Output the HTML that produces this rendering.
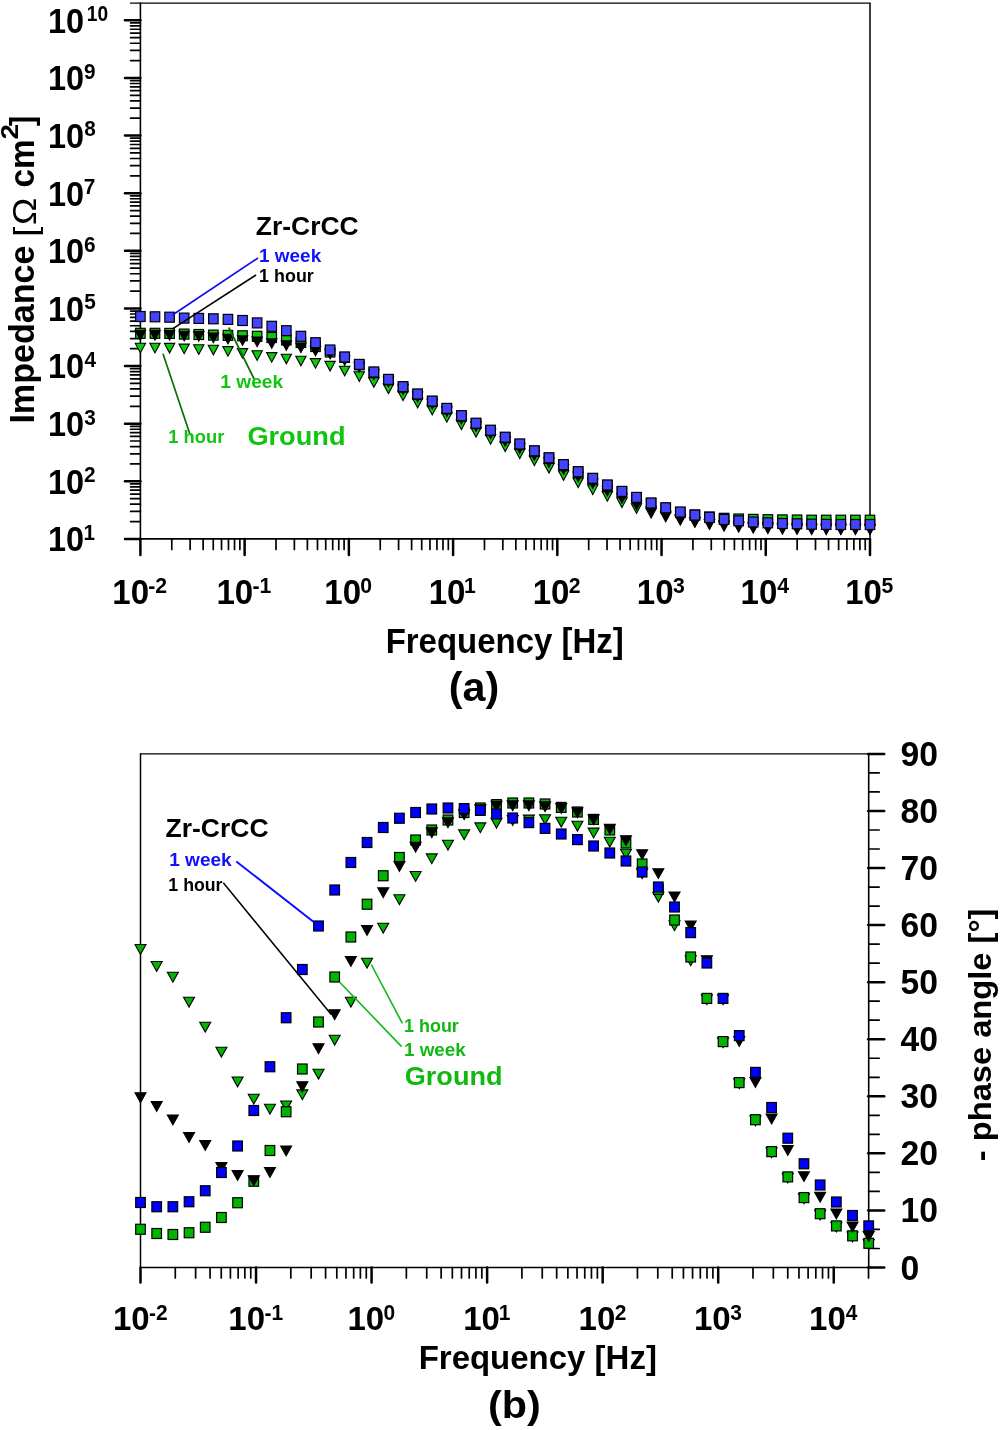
<!DOCTYPE html>
<html lang="en">
<head>
<meta charset="utf-8">
<title>Bode plots: impedance and phase angle</title>
<style>
html,body{margin:0;padding:0;background:#fff;}
body{width:1000px;height:1430px;overflow:hidden;}
svg{display:block;will-change:transform;}
text{font-family:"Liberation Sans",sans-serif;}
</style>
</head>
<body>
<svg width="1000" height="1430" viewBox="0 0 1000 1430" shape-rendering="geometricPrecision">
<rect x="0" y="0" width="1000" height="1430" fill="#ffffff"/>
<line x1="140.40" y1="2.40" x2="140.40" y2="539.70" stroke="#000" stroke-width="1.6" stroke-linecap="butt"/>
<line x1="140.40" y1="538.90" x2="870.70" y2="538.90" stroke="#000" stroke-width="1.6" stroke-linecap="butt"/>
<line x1="130.00" y1="3.10" x2="870.70" y2="3.10" stroke="#000" stroke-width="1.4" stroke-linecap="butt"/>
<line x1="870.00" y1="3.10" x2="870.00" y2="538.90" stroke="#000" stroke-width="1.5" stroke-linecap="butt"/>
<line x1="125.00" y1="538.90" x2="140.40" y2="538.90" stroke="#000" stroke-width="2.5" stroke-linecap="round"/>
<line x1="130.60" y1="521.55" x2="140.40" y2="521.55" stroke="#000" stroke-width="1.7" stroke-linecap="round"/>
<line x1="130.60" y1="511.41" x2="140.40" y2="511.41" stroke="#000" stroke-width="1.7" stroke-linecap="round"/>
<line x1="130.60" y1="504.21" x2="140.40" y2="504.21" stroke="#000" stroke-width="1.7" stroke-linecap="round"/>
<line x1="130.60" y1="498.63" x2="140.40" y2="498.63" stroke="#000" stroke-width="1.7" stroke-linecap="round"/>
<line x1="130.60" y1="494.06" x2="140.40" y2="494.06" stroke="#000" stroke-width="1.7" stroke-linecap="round"/>
<line x1="130.60" y1="490.21" x2="140.40" y2="490.21" stroke="#000" stroke-width="1.7" stroke-linecap="round"/>
<line x1="130.60" y1="486.86" x2="140.40" y2="486.86" stroke="#000" stroke-width="1.7" stroke-linecap="round"/>
<line x1="130.60" y1="483.92" x2="140.40" y2="483.92" stroke="#000" stroke-width="1.7" stroke-linecap="round"/>
<line x1="125.00" y1="481.28" x2="140.40" y2="481.28" stroke="#000" stroke-width="2.5" stroke-linecap="round"/>
<line x1="130.60" y1="463.93" x2="140.40" y2="463.93" stroke="#000" stroke-width="1.7" stroke-linecap="round"/>
<line x1="130.60" y1="453.79" x2="140.40" y2="453.79" stroke="#000" stroke-width="1.7" stroke-linecap="round"/>
<line x1="130.60" y1="446.59" x2="140.40" y2="446.59" stroke="#000" stroke-width="1.7" stroke-linecap="round"/>
<line x1="130.60" y1="441.01" x2="140.40" y2="441.01" stroke="#000" stroke-width="1.7" stroke-linecap="round"/>
<line x1="130.60" y1="436.44" x2="140.40" y2="436.44" stroke="#000" stroke-width="1.7" stroke-linecap="round"/>
<line x1="130.60" y1="432.59" x2="140.40" y2="432.59" stroke="#000" stroke-width="1.7" stroke-linecap="round"/>
<line x1="130.60" y1="429.24" x2="140.40" y2="429.24" stroke="#000" stroke-width="1.7" stroke-linecap="round"/>
<line x1="130.60" y1="426.30" x2="140.40" y2="426.30" stroke="#000" stroke-width="1.7" stroke-linecap="round"/>
<line x1="125.00" y1="423.66" x2="140.40" y2="423.66" stroke="#000" stroke-width="2.5" stroke-linecap="round"/>
<line x1="130.60" y1="406.31" x2="140.40" y2="406.31" stroke="#000" stroke-width="1.7" stroke-linecap="round"/>
<line x1="130.60" y1="396.17" x2="140.40" y2="396.17" stroke="#000" stroke-width="1.7" stroke-linecap="round"/>
<line x1="130.60" y1="388.97" x2="140.40" y2="388.97" stroke="#000" stroke-width="1.7" stroke-linecap="round"/>
<line x1="130.60" y1="383.39" x2="140.40" y2="383.39" stroke="#000" stroke-width="1.7" stroke-linecap="round"/>
<line x1="130.60" y1="378.82" x2="140.40" y2="378.82" stroke="#000" stroke-width="1.7" stroke-linecap="round"/>
<line x1="130.60" y1="374.97" x2="140.40" y2="374.97" stroke="#000" stroke-width="1.7" stroke-linecap="round"/>
<line x1="130.60" y1="371.62" x2="140.40" y2="371.62" stroke="#000" stroke-width="1.7" stroke-linecap="round"/>
<line x1="130.60" y1="368.68" x2="140.40" y2="368.68" stroke="#000" stroke-width="1.7" stroke-linecap="round"/>
<line x1="125.00" y1="366.04" x2="140.40" y2="366.04" stroke="#000" stroke-width="2.5" stroke-linecap="round"/>
<line x1="130.60" y1="348.69" x2="140.40" y2="348.69" stroke="#000" stroke-width="1.7" stroke-linecap="round"/>
<line x1="130.60" y1="338.55" x2="140.40" y2="338.55" stroke="#000" stroke-width="1.7" stroke-linecap="round"/>
<line x1="130.60" y1="331.35" x2="140.40" y2="331.35" stroke="#000" stroke-width="1.7" stroke-linecap="round"/>
<line x1="130.60" y1="325.77" x2="140.40" y2="325.77" stroke="#000" stroke-width="1.7" stroke-linecap="round"/>
<line x1="130.60" y1="321.20" x2="140.40" y2="321.20" stroke="#000" stroke-width="1.7" stroke-linecap="round"/>
<line x1="130.60" y1="317.35" x2="140.40" y2="317.35" stroke="#000" stroke-width="1.7" stroke-linecap="round"/>
<line x1="130.60" y1="314.00" x2="140.40" y2="314.00" stroke="#000" stroke-width="1.7" stroke-linecap="round"/>
<line x1="130.60" y1="311.06" x2="140.40" y2="311.06" stroke="#000" stroke-width="1.7" stroke-linecap="round"/>
<line x1="125.00" y1="308.42" x2="140.40" y2="308.42" stroke="#000" stroke-width="2.5" stroke-linecap="round"/>
<line x1="130.60" y1="291.07" x2="140.40" y2="291.07" stroke="#000" stroke-width="1.7" stroke-linecap="round"/>
<line x1="130.60" y1="280.93" x2="140.40" y2="280.93" stroke="#000" stroke-width="1.7" stroke-linecap="round"/>
<line x1="130.60" y1="273.73" x2="140.40" y2="273.73" stroke="#000" stroke-width="1.7" stroke-linecap="round"/>
<line x1="130.60" y1="268.15" x2="140.40" y2="268.15" stroke="#000" stroke-width="1.7" stroke-linecap="round"/>
<line x1="130.60" y1="263.58" x2="140.40" y2="263.58" stroke="#000" stroke-width="1.7" stroke-linecap="round"/>
<line x1="130.60" y1="259.73" x2="140.40" y2="259.73" stroke="#000" stroke-width="1.7" stroke-linecap="round"/>
<line x1="130.60" y1="256.38" x2="140.40" y2="256.38" stroke="#000" stroke-width="1.7" stroke-linecap="round"/>
<line x1="130.60" y1="253.44" x2="140.40" y2="253.44" stroke="#000" stroke-width="1.7" stroke-linecap="round"/>
<line x1="125.00" y1="250.80" x2="140.40" y2="250.80" stroke="#000" stroke-width="2.5" stroke-linecap="round"/>
<line x1="130.60" y1="233.45" x2="140.40" y2="233.45" stroke="#000" stroke-width="1.7" stroke-linecap="round"/>
<line x1="130.60" y1="223.31" x2="140.40" y2="223.31" stroke="#000" stroke-width="1.7" stroke-linecap="round"/>
<line x1="130.60" y1="216.11" x2="140.40" y2="216.11" stroke="#000" stroke-width="1.7" stroke-linecap="round"/>
<line x1="130.60" y1="210.53" x2="140.40" y2="210.53" stroke="#000" stroke-width="1.7" stroke-linecap="round"/>
<line x1="130.60" y1="205.96" x2="140.40" y2="205.96" stroke="#000" stroke-width="1.7" stroke-linecap="round"/>
<line x1="130.60" y1="202.11" x2="140.40" y2="202.11" stroke="#000" stroke-width="1.7" stroke-linecap="round"/>
<line x1="130.60" y1="198.76" x2="140.40" y2="198.76" stroke="#000" stroke-width="1.7" stroke-linecap="round"/>
<line x1="130.60" y1="195.82" x2="140.40" y2="195.82" stroke="#000" stroke-width="1.7" stroke-linecap="round"/>
<line x1="125.00" y1="193.18" x2="140.40" y2="193.18" stroke="#000" stroke-width="2.5" stroke-linecap="round"/>
<line x1="130.60" y1="175.83" x2="140.40" y2="175.83" stroke="#000" stroke-width="1.7" stroke-linecap="round"/>
<line x1="130.60" y1="165.69" x2="140.40" y2="165.69" stroke="#000" stroke-width="1.7" stroke-linecap="round"/>
<line x1="130.60" y1="158.49" x2="140.40" y2="158.49" stroke="#000" stroke-width="1.7" stroke-linecap="round"/>
<line x1="130.60" y1="152.91" x2="140.40" y2="152.91" stroke="#000" stroke-width="1.7" stroke-linecap="round"/>
<line x1="130.60" y1="148.34" x2="140.40" y2="148.34" stroke="#000" stroke-width="1.7" stroke-linecap="round"/>
<line x1="130.60" y1="144.49" x2="140.40" y2="144.49" stroke="#000" stroke-width="1.7" stroke-linecap="round"/>
<line x1="130.60" y1="141.14" x2="140.40" y2="141.14" stroke="#000" stroke-width="1.7" stroke-linecap="round"/>
<line x1="130.60" y1="138.20" x2="140.40" y2="138.20" stroke="#000" stroke-width="1.7" stroke-linecap="round"/>
<line x1="125.00" y1="135.56" x2="140.40" y2="135.56" stroke="#000" stroke-width="2.5" stroke-linecap="round"/>
<line x1="130.60" y1="118.21" x2="140.40" y2="118.21" stroke="#000" stroke-width="1.7" stroke-linecap="round"/>
<line x1="130.60" y1="108.07" x2="140.40" y2="108.07" stroke="#000" stroke-width="1.7" stroke-linecap="round"/>
<line x1="130.60" y1="100.87" x2="140.40" y2="100.87" stroke="#000" stroke-width="1.7" stroke-linecap="round"/>
<line x1="130.60" y1="95.29" x2="140.40" y2="95.29" stroke="#000" stroke-width="1.7" stroke-linecap="round"/>
<line x1="130.60" y1="90.72" x2="140.40" y2="90.72" stroke="#000" stroke-width="1.7" stroke-linecap="round"/>
<line x1="130.60" y1="86.87" x2="140.40" y2="86.87" stroke="#000" stroke-width="1.7" stroke-linecap="round"/>
<line x1="130.60" y1="83.52" x2="140.40" y2="83.52" stroke="#000" stroke-width="1.7" stroke-linecap="round"/>
<line x1="130.60" y1="80.58" x2="140.40" y2="80.58" stroke="#000" stroke-width="1.7" stroke-linecap="round"/>
<line x1="125.00" y1="77.94" x2="140.40" y2="77.94" stroke="#000" stroke-width="2.5" stroke-linecap="round"/>
<line x1="130.60" y1="60.59" x2="140.40" y2="60.59" stroke="#000" stroke-width="1.7" stroke-linecap="round"/>
<line x1="130.60" y1="50.45" x2="140.40" y2="50.45" stroke="#000" stroke-width="1.7" stroke-linecap="round"/>
<line x1="130.60" y1="43.25" x2="140.40" y2="43.25" stroke="#000" stroke-width="1.7" stroke-linecap="round"/>
<line x1="130.60" y1="37.67" x2="140.40" y2="37.67" stroke="#000" stroke-width="1.7" stroke-linecap="round"/>
<line x1="130.60" y1="33.10" x2="140.40" y2="33.10" stroke="#000" stroke-width="1.7" stroke-linecap="round"/>
<line x1="130.60" y1="29.25" x2="140.40" y2="29.25" stroke="#000" stroke-width="1.7" stroke-linecap="round"/>
<line x1="130.60" y1="25.90" x2="140.40" y2="25.90" stroke="#000" stroke-width="1.7" stroke-linecap="round"/>
<line x1="130.60" y1="22.96" x2="140.40" y2="22.96" stroke="#000" stroke-width="1.7" stroke-linecap="round"/>
<line x1="125.00" y1="20.32" x2="140.40" y2="20.32" stroke="#000" stroke-width="2.5" stroke-linecap="round"/>
<line x1="140.40" y1="538.90" x2="140.40" y2="554.90" stroke="#000" stroke-width="2.5" stroke-linecap="round"/>
<line x1="171.78" y1="538.90" x2="171.78" y2="549.40" stroke="#000" stroke-width="1.7" stroke-linecap="round"/>
<line x1="190.13" y1="538.90" x2="190.13" y2="549.40" stroke="#000" stroke-width="1.7" stroke-linecap="round"/>
<line x1="203.15" y1="538.90" x2="203.15" y2="549.40" stroke="#000" stroke-width="1.7" stroke-linecap="round"/>
<line x1="213.25" y1="538.90" x2="213.25" y2="549.40" stroke="#000" stroke-width="1.7" stroke-linecap="round"/>
<line x1="221.51" y1="538.90" x2="221.51" y2="549.40" stroke="#000" stroke-width="1.7" stroke-linecap="round"/>
<line x1="228.48" y1="538.90" x2="228.48" y2="549.40" stroke="#000" stroke-width="1.7" stroke-linecap="round"/>
<line x1="234.53" y1="538.90" x2="234.53" y2="549.40" stroke="#000" stroke-width="1.7" stroke-linecap="round"/>
<line x1="239.86" y1="538.90" x2="239.86" y2="549.40" stroke="#000" stroke-width="1.7" stroke-linecap="round"/>
<line x1="244.63" y1="538.90" x2="244.63" y2="554.90" stroke="#000" stroke-width="2.5" stroke-linecap="round"/>
<line x1="276.00" y1="538.90" x2="276.00" y2="549.40" stroke="#000" stroke-width="1.7" stroke-linecap="round"/>
<line x1="294.36" y1="538.90" x2="294.36" y2="549.40" stroke="#000" stroke-width="1.7" stroke-linecap="round"/>
<line x1="307.38" y1="538.90" x2="307.38" y2="549.40" stroke="#000" stroke-width="1.7" stroke-linecap="round"/>
<line x1="317.48" y1="538.90" x2="317.48" y2="549.40" stroke="#000" stroke-width="1.7" stroke-linecap="round"/>
<line x1="325.73" y1="538.90" x2="325.73" y2="549.40" stroke="#000" stroke-width="1.7" stroke-linecap="round"/>
<line x1="332.71" y1="538.90" x2="332.71" y2="549.40" stroke="#000" stroke-width="1.7" stroke-linecap="round"/>
<line x1="338.76" y1="538.90" x2="338.76" y2="549.40" stroke="#000" stroke-width="1.7" stroke-linecap="round"/>
<line x1="344.09" y1="538.90" x2="344.09" y2="549.40" stroke="#000" stroke-width="1.7" stroke-linecap="round"/>
<line x1="348.86" y1="538.90" x2="348.86" y2="554.90" stroke="#000" stroke-width="2.5" stroke-linecap="round"/>
<line x1="380.23" y1="538.90" x2="380.23" y2="549.40" stroke="#000" stroke-width="1.7" stroke-linecap="round"/>
<line x1="398.59" y1="538.90" x2="398.59" y2="549.40" stroke="#000" stroke-width="1.7" stroke-linecap="round"/>
<line x1="411.61" y1="538.90" x2="411.61" y2="549.40" stroke="#000" stroke-width="1.7" stroke-linecap="round"/>
<line x1="421.71" y1="538.90" x2="421.71" y2="549.40" stroke="#000" stroke-width="1.7" stroke-linecap="round"/>
<line x1="429.96" y1="538.90" x2="429.96" y2="549.40" stroke="#000" stroke-width="1.7" stroke-linecap="round"/>
<line x1="436.94" y1="538.90" x2="436.94" y2="549.40" stroke="#000" stroke-width="1.7" stroke-linecap="round"/>
<line x1="442.98" y1="538.90" x2="442.98" y2="549.40" stroke="#000" stroke-width="1.7" stroke-linecap="round"/>
<line x1="448.32" y1="538.90" x2="448.32" y2="549.40" stroke="#000" stroke-width="1.7" stroke-linecap="round"/>
<line x1="453.09" y1="538.90" x2="453.09" y2="554.90" stroke="#000" stroke-width="2.5" stroke-linecap="round"/>
<line x1="484.46" y1="538.90" x2="484.46" y2="549.40" stroke="#000" stroke-width="1.7" stroke-linecap="round"/>
<line x1="502.82" y1="538.90" x2="502.82" y2="549.40" stroke="#000" stroke-width="1.7" stroke-linecap="round"/>
<line x1="515.84" y1="538.90" x2="515.84" y2="549.40" stroke="#000" stroke-width="1.7" stroke-linecap="round"/>
<line x1="525.94" y1="538.90" x2="525.94" y2="549.40" stroke="#000" stroke-width="1.7" stroke-linecap="round"/>
<line x1="534.19" y1="538.90" x2="534.19" y2="549.40" stroke="#000" stroke-width="1.7" stroke-linecap="round"/>
<line x1="541.17" y1="538.90" x2="541.17" y2="549.40" stroke="#000" stroke-width="1.7" stroke-linecap="round"/>
<line x1="547.21" y1="538.90" x2="547.21" y2="549.40" stroke="#000" stroke-width="1.7" stroke-linecap="round"/>
<line x1="552.55" y1="538.90" x2="552.55" y2="549.40" stroke="#000" stroke-width="1.7" stroke-linecap="round"/>
<line x1="557.31" y1="538.90" x2="557.31" y2="554.90" stroke="#000" stroke-width="2.5" stroke-linecap="round"/>
<line x1="588.69" y1="538.90" x2="588.69" y2="549.40" stroke="#000" stroke-width="1.7" stroke-linecap="round"/>
<line x1="607.04" y1="538.90" x2="607.04" y2="549.40" stroke="#000" stroke-width="1.7" stroke-linecap="round"/>
<line x1="620.07" y1="538.90" x2="620.07" y2="549.40" stroke="#000" stroke-width="1.7" stroke-linecap="round"/>
<line x1="630.17" y1="538.90" x2="630.17" y2="549.40" stroke="#000" stroke-width="1.7" stroke-linecap="round"/>
<line x1="638.42" y1="538.90" x2="638.42" y2="549.40" stroke="#000" stroke-width="1.7" stroke-linecap="round"/>
<line x1="645.40" y1="538.90" x2="645.40" y2="549.40" stroke="#000" stroke-width="1.7" stroke-linecap="round"/>
<line x1="651.44" y1="538.90" x2="651.44" y2="549.40" stroke="#000" stroke-width="1.7" stroke-linecap="round"/>
<line x1="656.77" y1="538.90" x2="656.77" y2="549.40" stroke="#000" stroke-width="1.7" stroke-linecap="round"/>
<line x1="661.54" y1="538.90" x2="661.54" y2="554.90" stroke="#000" stroke-width="2.5" stroke-linecap="round"/>
<line x1="692.92" y1="538.90" x2="692.92" y2="549.40" stroke="#000" stroke-width="1.7" stroke-linecap="round"/>
<line x1="711.27" y1="538.90" x2="711.27" y2="549.40" stroke="#000" stroke-width="1.7" stroke-linecap="round"/>
<line x1="724.29" y1="538.90" x2="724.29" y2="549.40" stroke="#000" stroke-width="1.7" stroke-linecap="round"/>
<line x1="734.40" y1="538.90" x2="734.40" y2="549.40" stroke="#000" stroke-width="1.7" stroke-linecap="round"/>
<line x1="742.65" y1="538.90" x2="742.65" y2="549.40" stroke="#000" stroke-width="1.7" stroke-linecap="round"/>
<line x1="749.63" y1="538.90" x2="749.63" y2="549.40" stroke="#000" stroke-width="1.7" stroke-linecap="round"/>
<line x1="755.67" y1="538.90" x2="755.67" y2="549.40" stroke="#000" stroke-width="1.7" stroke-linecap="round"/>
<line x1="761.00" y1="538.90" x2="761.00" y2="549.40" stroke="#000" stroke-width="1.7" stroke-linecap="round"/>
<line x1="765.77" y1="538.90" x2="765.77" y2="554.90" stroke="#000" stroke-width="2.5" stroke-linecap="round"/>
<line x1="797.15" y1="538.90" x2="797.15" y2="549.40" stroke="#000" stroke-width="1.7" stroke-linecap="round"/>
<line x1="815.50" y1="538.90" x2="815.50" y2="549.40" stroke="#000" stroke-width="1.7" stroke-linecap="round"/>
<line x1="828.52" y1="538.90" x2="828.52" y2="549.40" stroke="#000" stroke-width="1.7" stroke-linecap="round"/>
<line x1="838.62" y1="538.90" x2="838.62" y2="549.40" stroke="#000" stroke-width="1.7" stroke-linecap="round"/>
<line x1="846.88" y1="538.90" x2="846.88" y2="549.40" stroke="#000" stroke-width="1.7" stroke-linecap="round"/>
<line x1="853.85" y1="538.90" x2="853.85" y2="549.40" stroke="#000" stroke-width="1.7" stroke-linecap="round"/>
<line x1="859.90" y1="538.90" x2="859.90" y2="549.40" stroke="#000" stroke-width="1.7" stroke-linecap="round"/>
<line x1="865.23" y1="538.90" x2="865.23" y2="549.40" stroke="#000" stroke-width="1.7" stroke-linecap="round"/>
<line x1="870.00" y1="538.90" x2="870.00" y2="554.90" stroke="#000" stroke-width="2.5" stroke-linecap="round"/>
<text transform="translate(48.09,551.30) scale(0.9230,1)" font-family="Liberation Sans, sans-serif" font-weight="bold" font-size="35.14" fill="#000" xml:space="preserve">10</text>
<text transform="translate(83.45,539.80) scale(0.9200,1)" font-family="Liberation Sans, sans-serif" font-weight="bold" font-size="22.57" fill="#000" xml:space="preserve">1</text>
<text transform="translate(48.09,493.68) scale(0.9230,1)" font-family="Liberation Sans, sans-serif" font-weight="bold" font-size="35.14" fill="#000" xml:space="preserve">10</text>
<text transform="translate(84.07,482.18) scale(0.9200,1)" font-family="Liberation Sans, sans-serif" font-weight="bold" font-size="22.57" fill="#000" xml:space="preserve">2</text>
<text transform="translate(48.09,436.06) scale(0.9230,1)" font-family="Liberation Sans, sans-serif" font-weight="bold" font-size="35.14" fill="#000" xml:space="preserve">10</text>
<text transform="translate(84.28,424.56) scale(0.9200,1)" font-family="Liberation Sans, sans-serif" font-weight="bold" font-size="22.57" fill="#000" xml:space="preserve">3</text>
<text transform="translate(48.09,378.44) scale(0.9230,1)" font-family="Liberation Sans, sans-serif" font-weight="bold" font-size="35.14" fill="#000" xml:space="preserve">10</text>
<text transform="translate(84.49,366.94) scale(0.9200,1)" font-family="Liberation Sans, sans-serif" font-weight="bold" font-size="22.57" fill="#000" xml:space="preserve">4</text>
<text transform="translate(48.09,320.82) scale(0.9230,1)" font-family="Liberation Sans, sans-serif" font-weight="bold" font-size="35.14" fill="#000" xml:space="preserve">10</text>
<text transform="translate(84.18,309.32) scale(0.9200,1)" font-family="Liberation Sans, sans-serif" font-weight="bold" font-size="22.57" fill="#000" xml:space="preserve">5</text>
<text transform="translate(48.09,263.20) scale(0.9230,1)" font-family="Liberation Sans, sans-serif" font-weight="bold" font-size="35.14" fill="#000" xml:space="preserve">10</text>
<text transform="translate(84.07,251.70) scale(0.9200,1)" font-family="Liberation Sans, sans-serif" font-weight="bold" font-size="22.57" fill="#000" xml:space="preserve">6</text>
<text transform="translate(48.09,205.58) scale(0.9230,1)" font-family="Liberation Sans, sans-serif" font-weight="bold" font-size="35.14" fill="#000" xml:space="preserve">10</text>
<text transform="translate(83.87,194.08) scale(0.9200,1)" font-family="Liberation Sans, sans-serif" font-weight="bold" font-size="22.57" fill="#000" xml:space="preserve">7</text>
<text transform="translate(48.09,147.96) scale(0.9230,1)" font-family="Liberation Sans, sans-serif" font-weight="bold" font-size="35.14" fill="#000" xml:space="preserve">10</text>
<text transform="translate(84.18,136.46) scale(0.9200,1)" font-family="Liberation Sans, sans-serif" font-weight="bold" font-size="22.57" fill="#000" xml:space="preserve">8</text>
<text transform="translate(48.09,90.34) scale(0.9230,1)" font-family="Liberation Sans, sans-serif" font-weight="bold" font-size="35.14" fill="#000" xml:space="preserve">10</text>
<text transform="translate(84.07,78.84) scale(0.9200,1)" font-family="Liberation Sans, sans-serif" font-weight="bold" font-size="22.57" fill="#000" xml:space="preserve">9</text>
<text transform="translate(48.09,32.72) scale(0.9230,1)" font-family="Liberation Sans, sans-serif" font-weight="bold" font-size="35.14" fill="#000" xml:space="preserve">10</text>
<text transform="translate(86.75,21.22) scale(0.8508,1)" font-family="Liberation Sans, sans-serif" font-weight="bold" font-size="22.57" fill="#000" xml:space="preserve">10</text>
<text transform="translate(112.31,604.10) scale(0.9439,1)" font-family="Liberation Sans, sans-serif" font-weight="bold" font-size="35.00" fill="#000" xml:space="preserve">10</text>
<text transform="translate(148.31,592.80) scale(0.9400,1)" font-family="Liberation Sans, sans-serif" font-weight="bold" font-size="22.57" fill="#000" xml:space="preserve">-2</text>
<text transform="translate(216.43,604.10) scale(0.9439,1)" font-family="Liberation Sans, sans-serif" font-weight="bold" font-size="35.00" fill="#000" xml:space="preserve">10</text>
<text transform="translate(252.43,592.80) scale(0.9400,1)" font-family="Liberation Sans, sans-serif" font-weight="bold" font-size="22.57" fill="#000" xml:space="preserve">-1</text>
<text transform="translate(324.32,604.10) scale(0.9439,1)" font-family="Liberation Sans, sans-serif" font-weight="bold" font-size="35.00" fill="#000" xml:space="preserve">10</text>
<text transform="translate(360.32,592.80) scale(0.9400,1)" font-family="Liberation Sans, sans-serif" font-weight="bold" font-size="22.57" fill="#000" xml:space="preserve">0</text>
<text transform="translate(428.66,604.10) scale(0.9439,1)" font-family="Liberation Sans, sans-serif" font-weight="bold" font-size="35.00" fill="#000" xml:space="preserve">10</text>
<text transform="translate(464.12,592.80) scale(0.9400,1)" font-family="Liberation Sans, sans-serif" font-weight="bold" font-size="22.57" fill="#000" xml:space="preserve">1</text>
<text transform="translate(532.72,604.10) scale(0.9439,1)" font-family="Liberation Sans, sans-serif" font-weight="bold" font-size="35.00" fill="#000" xml:space="preserve">10</text>
<text transform="translate(568.83,592.80) scale(0.9400,1)" font-family="Liberation Sans, sans-serif" font-weight="bold" font-size="22.57" fill="#000" xml:space="preserve">2</text>
<text transform="translate(636.79,604.10) scale(0.9439,1)" font-family="Liberation Sans, sans-serif" font-weight="bold" font-size="35.00" fill="#000" xml:space="preserve">10</text>
<text transform="translate(673.11,592.80) scale(0.9400,1)" font-family="Liberation Sans, sans-serif" font-weight="bold" font-size="22.57" fill="#000" xml:space="preserve">3</text>
<text transform="translate(740.60,604.10) scale(0.9439,1)" font-family="Liberation Sans, sans-serif" font-weight="bold" font-size="35.00" fill="#000" xml:space="preserve">10</text>
<text transform="translate(777.13,592.80) scale(0.9400,1)" font-family="Liberation Sans, sans-serif" font-weight="bold" font-size="22.57" fill="#000" xml:space="preserve">4</text>
<text transform="translate(845.20,604.10) scale(0.9439,1)" font-family="Liberation Sans, sans-serif" font-weight="bold" font-size="35.00" fill="#000" xml:space="preserve">10</text>
<text transform="translate(881.41,592.80) scale(0.9400,1)" font-family="Liberation Sans, sans-serif" font-weight="bold" font-size="22.57" fill="#000" xml:space="preserve">5</text>
<text transform="translate(385.66,653.30) scale(0.9595,1)" font-family="Liberation Sans, sans-serif" font-weight="bold" font-size="34.35" fill="#000" xml:space="preserve">Frequency [Hz]</text>
<text transform="translate(448.63,700.60) scale(0.9964,1)" font-family="Liberation Sans, sans-serif" font-weight="bold" font-size="41.49" fill="#000" xml:space="preserve">(a)</text>
<g transform="translate(34.3,0) rotate(-90)">
<text transform="translate(-423.62,0.00) scale(0.9528,1)" font-family="Liberation Sans, sans-serif" font-weight="bold" font-size="35.80" fill="#000" xml:space="preserve">Impedance</text>
<text transform="translate(-236.86,1.90) scale(1.1442,1)" font-family="Liberation Sans, sans-serif" font-weight="normal" font-size="31.90" fill="#000" xml:space="preserve">[</text>
<text transform="translate(-224.94,2.00) scale(1.0896,1)" font-family="Liberation Serif, serif" font-weight="normal" font-size="33.70" fill="#000" xml:space="preserve">Ω</text>
<text transform="translate(-187.53,0.00) scale(0.9305,1)" font-family="Liberation Sans, sans-serif" font-weight="bold" font-size="35.80" fill="#000" xml:space="preserve">cm</text>
<text transform="translate(-139.58,-16.60) scale(1.2063,1)" font-family="Liberation Sans, sans-serif" font-weight="bold" font-size="23.14" fill="#000" xml:space="preserve">2</text>
<text transform="translate(-126.21,-1.00) scale(0.9406,1)" font-family="Liberation Sans, sans-serif" font-weight="bold" font-size="33.30" fill="#000" xml:space="preserve">]</text>
</g>
<path d="M135.24 343.30L145.56 343.30L140.40 352.90Z" fill="#0ccc0c" stroke="#000" stroke-width="1.1" stroke-linejoin="miter"/>
<path d="M149.83 343.30L160.15 343.30L154.99 352.90Z" fill="#0ccc0c" stroke="#000" stroke-width="1.1" stroke-linejoin="miter"/>
<path d="M164.42 343.40L174.74 343.40L169.58 353.00Z" fill="#0ccc0c" stroke="#000" stroke-width="1.1" stroke-linejoin="miter"/>
<path d="M179.02 344.10L189.34 344.10L184.18 353.70Z" fill="#0ccc0c" stroke="#000" stroke-width="1.1" stroke-linejoin="miter"/>
<path d="M193.61 344.80L203.93 344.80L198.77 354.40Z" fill="#0ccc0c" stroke="#000" stroke-width="1.1" stroke-linejoin="miter"/>
<path d="M208.20 345.20L218.52 345.20L213.36 354.80Z" fill="#0ccc0c" stroke="#000" stroke-width="1.1" stroke-linejoin="miter"/>
<path d="M222.79 346.60L233.11 346.60L227.95 356.20Z" fill="#0ccc0c" stroke="#000" stroke-width="1.1" stroke-linejoin="miter"/>
<path d="M237.38 348.60L247.70 348.60L242.54 358.20Z" fill="#0ccc0c" stroke="#000" stroke-width="1.1" stroke-linejoin="miter"/>
<path d="M251.98 350.80L262.30 350.80L257.14 360.40Z" fill="#0ccc0c" stroke="#000" stroke-width="1.1" stroke-linejoin="miter"/>
<path d="M266.57 352.60L276.89 352.60L271.73 362.20Z" fill="#0ccc0c" stroke="#000" stroke-width="1.1" stroke-linejoin="miter"/>
<path d="M281.16 354.20L291.48 354.20L286.32 363.80Z" fill="#0ccc0c" stroke="#000" stroke-width="1.1" stroke-linejoin="miter"/>
<path d="M295.75 356.20L306.07 356.20L300.91 365.80Z" fill="#0ccc0c" stroke="#000" stroke-width="1.1" stroke-linejoin="miter"/>
<path d="M310.34 358.60L320.66 358.60L315.50 368.20Z" fill="#0ccc0c" stroke="#000" stroke-width="1.1" stroke-linejoin="miter"/>
<path d="M324.94 361.40L335.26 361.40L330.10 371.00Z" fill="#0ccc0c" stroke="#000" stroke-width="1.1" stroke-linejoin="miter"/>
<path d="M339.53 366.20L349.85 366.20L344.69 375.80Z" fill="#0ccc0c" stroke="#000" stroke-width="1.1" stroke-linejoin="miter"/>
<path d="M354.12 371.80L364.44 371.80L359.28 381.40Z" fill="#0ccc0c" stroke="#000" stroke-width="1.1" stroke-linejoin="miter"/>
<path d="M368.71 377.70L379.03 377.70L373.87 387.30Z" fill="#0ccc0c" stroke="#000" stroke-width="1.1" stroke-linejoin="miter"/>
<path d="M383.30 384.00L393.62 384.00L388.46 393.60Z" fill="#0ccc0c" stroke="#000" stroke-width="1.1" stroke-linejoin="miter"/>
<path d="M397.90 391.10L408.22 391.10L403.06 400.70Z" fill="#0ccc0c" stroke="#000" stroke-width="1.1" stroke-linejoin="miter"/>
<path d="M412.49 398.20L422.81 398.20L417.65 407.80Z" fill="#0ccc0c" stroke="#000" stroke-width="1.1" stroke-linejoin="miter"/>
<path d="M427.08 405.30L437.40 405.30L432.24 414.90Z" fill="#0ccc0c" stroke="#000" stroke-width="1.1" stroke-linejoin="miter"/>
<path d="M441.67 412.60L451.99 412.60L446.83 422.20Z" fill="#0ccc0c" stroke="#000" stroke-width="1.1" stroke-linejoin="miter"/>
<path d="M456.26 419.90L466.58 419.90L461.42 429.50Z" fill="#0ccc0c" stroke="#000" stroke-width="1.1" stroke-linejoin="miter"/>
<path d="M470.86 427.50L481.18 427.50L476.02 437.10Z" fill="#0ccc0c" stroke="#000" stroke-width="1.1" stroke-linejoin="miter"/>
<path d="M485.45 434.60L495.77 434.60L490.61 444.20Z" fill="#0ccc0c" stroke="#000" stroke-width="1.1" stroke-linejoin="miter"/>
<path d="M500.04 441.90L510.36 441.90L505.20 451.50Z" fill="#0ccc0c" stroke="#000" stroke-width="1.1" stroke-linejoin="miter"/>
<path d="M514.63 448.90L524.95 448.90L519.79 458.50Z" fill="#0ccc0c" stroke="#000" stroke-width="1.1" stroke-linejoin="miter"/>
<path d="M529.22 456.00L539.54 456.00L534.38 465.60Z" fill="#0ccc0c" stroke="#000" stroke-width="1.1" stroke-linejoin="miter"/>
<path d="M543.82 463.50L554.14 463.50L548.98 473.10Z" fill="#0ccc0c" stroke="#000" stroke-width="1.1" stroke-linejoin="miter"/>
<path d="M558.41 470.70L568.73 470.70L563.57 480.30Z" fill="#0ccc0c" stroke="#000" stroke-width="1.1" stroke-linejoin="miter"/>
<path d="M573.00 478.00L583.32 478.00L578.16 487.60Z" fill="#0ccc0c" stroke="#000" stroke-width="1.1" stroke-linejoin="miter"/>
<path d="M587.59 484.90L597.91 484.90L592.75 494.50Z" fill="#0ccc0c" stroke="#000" stroke-width="1.1" stroke-linejoin="miter"/>
<path d="M602.18 491.60L612.50 491.60L607.34 501.20Z" fill="#0ccc0c" stroke="#000" stroke-width="1.1" stroke-linejoin="miter"/>
<path d="M616.78 497.90L627.10 497.90L621.94 507.50Z" fill="#0ccc0c" stroke="#000" stroke-width="1.1" stroke-linejoin="miter"/>
<path d="M631.37 503.70L641.69 503.70L636.53 513.30Z" fill="#0ccc0c" stroke="#000" stroke-width="1.1" stroke-linejoin="miter"/>
<path d="M645.96 508.60L656.28 508.60L651.12 518.20Z" fill="#0ccc0c" stroke="#000" stroke-width="1.1" stroke-linejoin="miter"/>
<path d="M660.55 511.30L670.87 511.30L665.71 520.90Z" fill="#0ccc0c" stroke="#000" stroke-width="1.1" stroke-linejoin="miter"/>
<path d="M675.14 514.90L685.46 514.90L680.30 524.50Z" fill="#0ccc0c" stroke="#000" stroke-width="1.1" stroke-linejoin="miter"/>
<path d="M689.74 517.50L700.06 517.50L694.90 527.10Z" fill="#0ccc0c" stroke="#000" stroke-width="1.1" stroke-linejoin="miter"/>
<path d="M704.33 519.30L714.65 519.30L709.49 528.90Z" fill="#0ccc0c" stroke="#000" stroke-width="1.1" stroke-linejoin="miter"/>
<path d="M718.92 520.80L729.24 520.80L724.08 530.40Z" fill="#0ccc0c" stroke="#000" stroke-width="1.1" stroke-linejoin="miter"/>
<path d="M733.51 521.70L743.83 521.70L738.67 531.30Z" fill="#0ccc0c" stroke="#000" stroke-width="1.1" stroke-linejoin="miter"/>
<path d="M748.10 522.40L758.42 522.40L753.26 532.00Z" fill="#0ccc0c" stroke="#000" stroke-width="1.1" stroke-linejoin="miter"/>
<path d="M762.70 522.70L773.02 522.70L767.86 532.30Z" fill="#0ccc0c" stroke="#000" stroke-width="1.1" stroke-linejoin="miter"/>
<path d="M777.29 523.40L787.61 523.40L782.45 533.00Z" fill="#0ccc0c" stroke="#000" stroke-width="1.1" stroke-linejoin="miter"/>
<path d="M791.88 523.70L802.20 523.70L797.04 533.30Z" fill="#0ccc0c" stroke="#000" stroke-width="1.1" stroke-linejoin="miter"/>
<path d="M806.47 524.10L816.79 524.10L811.63 533.70Z" fill="#0ccc0c" stroke="#000" stroke-width="1.1" stroke-linejoin="miter"/>
<path d="M821.06 524.30L831.38 524.30L826.22 533.90Z" fill="#0ccc0c" stroke="#000" stroke-width="1.1" stroke-linejoin="miter"/>
<path d="M835.66 524.40L845.98 524.40L840.82 534.00Z" fill="#0ccc0c" stroke="#000" stroke-width="1.1" stroke-linejoin="miter"/>
<path d="M850.25 524.40L860.57 524.40L855.41 534.00Z" fill="#0ccc0c" stroke="#000" stroke-width="1.1" stroke-linejoin="miter"/>
<path d="M864.84 524.40L875.16 524.40L870.00 534.00Z" fill="#0ccc0c" stroke="#000" stroke-width="1.1" stroke-linejoin="miter"/>
<rect x="135.65" y="328.30" width="9.50" height="10.00" fill="#0ccc0c" stroke="#000" stroke-width="1.2"/>
<rect x="150.24" y="328.30" width="9.50" height="10.00" fill="#0ccc0c" stroke="#000" stroke-width="1.2"/>
<rect x="164.83" y="328.40" width="9.50" height="10.00" fill="#0ccc0c" stroke="#000" stroke-width="1.2"/>
<rect x="179.43" y="329.10" width="9.50" height="10.00" fill="#0ccc0c" stroke="#000" stroke-width="1.2"/>
<rect x="194.02" y="329.50" width="9.50" height="10.00" fill="#0ccc0c" stroke="#000" stroke-width="1.2"/>
<rect x="208.61" y="330.10" width="9.50" height="10.00" fill="#0ccc0c" stroke="#000" stroke-width="1.2"/>
<rect x="223.20" y="330.40" width="9.50" height="10.00" fill="#0ccc0c" stroke="#000" stroke-width="1.2"/>
<rect x="237.79" y="330.80" width="9.50" height="10.00" fill="#0ccc0c" stroke="#000" stroke-width="1.2"/>
<rect x="252.39" y="331.30" width="9.50" height="10.00" fill="#0ccc0c" stroke="#000" stroke-width="1.2"/>
<rect x="266.98" y="332.50" width="9.50" height="10.00" fill="#0ccc0c" stroke="#000" stroke-width="1.2"/>
<rect x="281.57" y="335.00" width="9.50" height="10.00" fill="#0ccc0c" stroke="#000" stroke-width="1.2"/>
<rect x="296.16" y="337.50" width="9.50" height="10.00" fill="#0ccc0c" stroke="#000" stroke-width="1.2"/>
<rect x="310.75" y="341.50" width="9.50" height="10.00" fill="#0ccc0c" stroke="#000" stroke-width="1.2"/>
<rect x="325.35" y="347.00" width="9.50" height="10.00" fill="#0ccc0c" stroke="#000" stroke-width="1.2"/>
<rect x="339.94" y="352.40" width="9.50" height="10.00" fill="#0ccc0c" stroke="#000" stroke-width="1.2"/>
<rect x="354.53" y="359.80" width="9.50" height="10.00" fill="#0ccc0c" stroke="#000" stroke-width="1.2"/>
<rect x="369.12" y="367.40" width="9.50" height="10.00" fill="#0ccc0c" stroke="#000" stroke-width="1.2"/>
<rect x="383.71" y="374.80" width="9.50" height="10.00" fill="#0ccc0c" stroke="#000" stroke-width="1.2"/>
<rect x="398.31" y="382.10" width="9.50" height="10.00" fill="#0ccc0c" stroke="#000" stroke-width="1.2"/>
<rect x="412.90" y="389.40" width="9.50" height="10.00" fill="#0ccc0c" stroke="#000" stroke-width="1.2"/>
<rect x="427.49" y="396.50" width="9.50" height="10.00" fill="#0ccc0c" stroke="#000" stroke-width="1.2"/>
<rect x="442.08" y="403.80" width="9.50" height="10.00" fill="#0ccc0c" stroke="#000" stroke-width="1.2"/>
<rect x="456.67" y="411.10" width="9.50" height="10.00" fill="#0ccc0c" stroke="#000" stroke-width="1.2"/>
<rect x="471.27" y="418.60" width="9.50" height="10.00" fill="#0ccc0c" stroke="#000" stroke-width="1.2"/>
<rect x="485.86" y="425.60" width="9.50" height="10.00" fill="#0ccc0c" stroke="#000" stroke-width="1.2"/>
<rect x="500.45" y="432.60" width="9.50" height="10.00" fill="#0ccc0c" stroke="#000" stroke-width="1.2"/>
<rect x="515.04" y="439.40" width="9.50" height="10.00" fill="#0ccc0c" stroke="#000" stroke-width="1.2"/>
<rect x="529.63" y="446.20" width="9.50" height="10.00" fill="#0ccc0c" stroke="#000" stroke-width="1.2"/>
<rect x="544.23" y="453.20" width="9.50" height="10.00" fill="#0ccc0c" stroke="#000" stroke-width="1.2"/>
<rect x="558.82" y="460.00" width="9.50" height="10.00" fill="#0ccc0c" stroke="#000" stroke-width="1.2"/>
<rect x="573.41" y="467.10" width="9.50" height="10.00" fill="#0ccc0c" stroke="#000" stroke-width="1.2"/>
<rect x="588.00" y="473.70" width="9.50" height="10.00" fill="#0ccc0c" stroke="#000" stroke-width="1.2"/>
<rect x="602.59" y="480.40" width="9.50" height="10.00" fill="#0ccc0c" stroke="#000" stroke-width="1.2"/>
<rect x="617.19" y="486.80" width="9.50" height="10.00" fill="#0ccc0c" stroke="#000" stroke-width="1.2"/>
<rect x="631.78" y="492.80" width="9.50" height="10.00" fill="#0ccc0c" stroke="#000" stroke-width="1.2"/>
<rect x="646.37" y="498.40" width="9.50" height="10.00" fill="#0ccc0c" stroke="#000" stroke-width="1.2"/>
<rect x="660.96" y="503.20" width="9.50" height="10.00" fill="#0ccc0c" stroke="#000" stroke-width="1.2"/>
<rect x="675.55" y="507.50" width="9.50" height="10.00" fill="#0ccc0c" stroke="#000" stroke-width="1.2"/>
<rect x="690.15" y="510.00" width="9.50" height="10.00" fill="#0ccc0c" stroke="#000" stroke-width="1.2"/>
<rect x="704.74" y="512.00" width="9.50" height="10.00" fill="#0ccc0c" stroke="#000" stroke-width="1.2"/>
<rect x="719.33" y="513.30" width="9.50" height="10.00" fill="#0ccc0c" stroke="#000" stroke-width="1.2"/>
<rect x="733.92" y="514.00" width="9.50" height="10.00" fill="#0ccc0c" stroke="#000" stroke-width="1.2"/>
<rect x="748.51" y="514.40" width="9.50" height="10.00" fill="#0ccc0c" stroke="#000" stroke-width="1.2"/>
<rect x="763.11" y="514.70" width="9.50" height="10.00" fill="#0ccc0c" stroke="#000" stroke-width="1.2"/>
<rect x="777.70" y="514.90" width="9.50" height="10.00" fill="#0ccc0c" stroke="#000" stroke-width="1.2"/>
<rect x="792.29" y="515.00" width="9.50" height="10.00" fill="#0ccc0c" stroke="#000" stroke-width="1.2"/>
<rect x="806.88" y="515.20" width="9.50" height="10.00" fill="#0ccc0c" stroke="#000" stroke-width="1.2"/>
<rect x="821.47" y="515.20" width="9.50" height="10.00" fill="#0ccc0c" stroke="#000" stroke-width="1.2"/>
<rect x="836.07" y="515.20" width="9.50" height="10.00" fill="#0ccc0c" stroke="#000" stroke-width="1.2"/>
<rect x="850.66" y="515.20" width="9.50" height="10.00" fill="#0ccc0c" stroke="#000" stroke-width="1.2"/>
<rect x="865.25" y="515.20" width="9.50" height="10.00" fill="#0ccc0c" stroke="#000" stroke-width="1.2"/>
<path d="M135.24 330.40L145.56 330.40L140.40 340.00Z" fill="#000" stroke="#000" stroke-width="1.1" stroke-linejoin="miter"/>
<path d="M149.83 330.40L160.15 330.40L154.99 340.00Z" fill="#000" stroke="#000" stroke-width="1.1" stroke-linejoin="miter"/>
<path d="M164.42 330.50L174.74 330.50L169.58 340.10Z" fill="#000" stroke="#000" stroke-width="1.1" stroke-linejoin="miter"/>
<path d="M179.02 331.30L189.34 331.30L184.18 340.90Z" fill="#000" stroke="#000" stroke-width="1.1" stroke-linejoin="miter"/>
<path d="M193.61 331.60L203.93 331.60L198.77 341.20Z" fill="#000" stroke="#000" stroke-width="1.1" stroke-linejoin="miter"/>
<path d="M208.20 333.10L218.52 333.10L213.36 342.70Z" fill="#000" stroke="#000" stroke-width="1.1" stroke-linejoin="miter"/>
<path d="M222.79 334.30L233.11 334.30L227.95 343.90Z" fill="#000" stroke="#000" stroke-width="1.1" stroke-linejoin="miter"/>
<path d="M237.38 335.70L247.70 335.70L242.54 345.30Z" fill="#000" stroke="#000" stroke-width="1.1" stroke-linejoin="miter"/>
<path d="M251.98 337.10L262.30 337.10L257.14 346.70Z" fill="#000" stroke="#000" stroke-width="1.1" stroke-linejoin="miter"/>
<path d="M266.57 338.70L276.89 338.70L271.73 348.30Z" fill="#000" stroke="#000" stroke-width="1.1" stroke-linejoin="miter"/>
<path d="M281.16 340.70L291.48 340.70L286.32 350.30Z" fill="#000" stroke="#000" stroke-width="1.1" stroke-linejoin="miter"/>
<path d="M295.75 343.10L306.07 343.10L300.91 352.70Z" fill="#000" stroke="#000" stroke-width="1.1" stroke-linejoin="miter"/>
<path d="M310.34 346.30L320.66 346.30L315.50 355.90Z" fill="#000" stroke="#000" stroke-width="1.1" stroke-linejoin="miter"/>
<path d="M324.94 349.30L335.26 349.30L330.10 358.90Z" fill="#000" stroke="#000" stroke-width="1.1" stroke-linejoin="miter"/>
<path d="M339.53 355.80L349.85 355.80L344.69 365.40Z" fill="#000" stroke="#000" stroke-width="1.1" stroke-linejoin="miter"/>
<path d="M354.12 362.50L364.44 362.50L359.28 372.10Z" fill="#000" stroke="#000" stroke-width="1.1" stroke-linejoin="miter"/>
<path d="M368.71 369.90L379.03 369.90L373.87 379.50Z" fill="#000" stroke="#000" stroke-width="1.1" stroke-linejoin="miter"/>
<path d="M383.30 377.30L393.62 377.30L388.46 386.90Z" fill="#000" stroke="#000" stroke-width="1.1" stroke-linejoin="miter"/>
<path d="M397.90 384.70L408.22 384.70L403.06 394.30Z" fill="#000" stroke="#000" stroke-width="1.1" stroke-linejoin="miter"/>
<path d="M412.49 392.12L422.81 392.12L417.65 401.72Z" fill="#000" stroke="#000" stroke-width="1.1" stroke-linejoin="miter"/>
<path d="M427.08 399.33L437.40 399.33L432.24 408.93Z" fill="#000" stroke="#000" stroke-width="1.1" stroke-linejoin="miter"/>
<path d="M441.67 406.75L451.99 406.75L446.83 416.35Z" fill="#000" stroke="#000" stroke-width="1.1" stroke-linejoin="miter"/>
<path d="M456.26 414.16L466.58 414.16L461.42 423.76Z" fill="#000" stroke="#000" stroke-width="1.1" stroke-linejoin="miter"/>
<path d="M470.86 421.78L481.18 421.78L476.02 431.38Z" fill="#000" stroke="#000" stroke-width="1.1" stroke-linejoin="miter"/>
<path d="M485.45 429.09L495.77 429.09L490.61 438.69Z" fill="#000" stroke="#000" stroke-width="1.1" stroke-linejoin="miter"/>
<path d="M500.04 436.51L510.36 436.51L505.20 446.11Z" fill="#000" stroke="#000" stroke-width="1.1" stroke-linejoin="miter"/>
<path d="M514.63 443.62L524.95 443.62L519.79 453.22Z" fill="#000" stroke="#000" stroke-width="1.1" stroke-linejoin="miter"/>
<path d="M529.22 450.64L539.54 450.64L534.38 460.24Z" fill="#000" stroke="#000" stroke-width="1.1" stroke-linejoin="miter"/>
<path d="M543.82 457.75L554.14 457.75L548.98 467.35Z" fill="#000" stroke="#000" stroke-width="1.1" stroke-linejoin="miter"/>
<path d="M558.41 464.67L568.73 464.67L563.57 474.27Z" fill="#000" stroke="#000" stroke-width="1.1" stroke-linejoin="miter"/>
<path d="M573.00 471.98L583.32 471.98L578.16 481.58Z" fill="#000" stroke="#000" stroke-width="1.1" stroke-linejoin="miter"/>
<path d="M587.59 478.80L597.91 478.80L592.75 488.40Z" fill="#000" stroke="#000" stroke-width="1.1" stroke-linejoin="miter"/>
<path d="M602.18 486.30L612.50 486.30L607.34 495.90Z" fill="#000" stroke="#000" stroke-width="1.1" stroke-linejoin="miter"/>
<path d="M616.78 493.50L627.10 493.50L621.94 503.10Z" fill="#000" stroke="#000" stroke-width="1.1" stroke-linejoin="miter"/>
<path d="M631.37 500.20L641.69 500.20L636.53 509.80Z" fill="#000" stroke="#000" stroke-width="1.1" stroke-linejoin="miter"/>
<path d="M645.96 506.60L656.28 506.60L651.12 516.20Z" fill="#000" stroke="#000" stroke-width="1.1" stroke-linejoin="miter"/>
<path d="M660.55 512.20L670.87 512.20L665.71 521.80Z" fill="#000" stroke="#000" stroke-width="1.1" stroke-linejoin="miter"/>
<path d="M675.14 515.50L685.46 515.50L680.30 525.10Z" fill="#000" stroke="#000" stroke-width="1.1" stroke-linejoin="miter"/>
<path d="M689.74 517.50L700.06 517.50L694.90 527.10Z" fill="#000" stroke="#000" stroke-width="1.1" stroke-linejoin="miter"/>
<path d="M704.33 519.70L714.65 519.70L709.49 529.30Z" fill="#000" stroke="#000" stroke-width="1.1" stroke-linejoin="miter"/>
<path d="M718.92 521.50L729.24 521.50L724.08 531.10Z" fill="#000" stroke="#000" stroke-width="1.1" stroke-linejoin="miter"/>
<path d="M733.51 522.60L743.83 522.60L738.67 532.20Z" fill="#000" stroke="#000" stroke-width="1.1" stroke-linejoin="miter"/>
<path d="M748.10 523.50L758.42 523.50L753.26 533.10Z" fill="#000" stroke="#000" stroke-width="1.1" stroke-linejoin="miter"/>
<path d="M762.70 524.10L773.02 524.10L767.86 533.70Z" fill="#000" stroke="#000" stroke-width="1.1" stroke-linejoin="miter"/>
<path d="M777.29 524.50L787.61 524.50L782.45 534.10Z" fill="#000" stroke="#000" stroke-width="1.1" stroke-linejoin="miter"/>
<path d="M791.88 524.70L802.20 524.70L797.04 534.30Z" fill="#000" stroke="#000" stroke-width="1.1" stroke-linejoin="miter"/>
<path d="M806.47 525.00L816.79 525.00L811.63 534.60Z" fill="#000" stroke="#000" stroke-width="1.1" stroke-linejoin="miter"/>
<path d="M821.06 525.10L831.38 525.10L826.22 534.70Z" fill="#000" stroke="#000" stroke-width="1.1" stroke-linejoin="miter"/>
<path d="M835.66 525.10L845.98 525.10L840.82 534.70Z" fill="#000" stroke="#000" stroke-width="1.1" stroke-linejoin="miter"/>
<path d="M850.25 525.10L860.57 525.10L855.41 534.70Z" fill="#000" stroke="#000" stroke-width="1.1" stroke-linejoin="miter"/>
<path d="M864.84 525.10L875.16 525.10L870.00 534.70Z" fill="#000" stroke="#000" stroke-width="1.1" stroke-linejoin="miter"/>
<rect x="135.65" y="311.50" width="9.50" height="10.00" fill="#4444ff" stroke="#000" stroke-width="1.2"/>
<rect x="150.24" y="311.80" width="9.50" height="10.00" fill="#4444ff" stroke="#000" stroke-width="1.2"/>
<rect x="164.83" y="312.20" width="9.50" height="10.00" fill="#4444ff" stroke="#000" stroke-width="1.2"/>
<rect x="179.43" y="313.10" width="9.50" height="10.00" fill="#4444ff" stroke="#000" stroke-width="1.2"/>
<rect x="194.02" y="313.40" width="9.50" height="10.00" fill="#4444ff" stroke="#000" stroke-width="1.2"/>
<rect x="208.61" y="313.80" width="9.50" height="10.00" fill="#4444ff" stroke="#000" stroke-width="1.2"/>
<rect x="223.20" y="314.40" width="9.50" height="10.00" fill="#4444ff" stroke="#000" stroke-width="1.2"/>
<rect x="237.79" y="315.50" width="9.50" height="10.00" fill="#4444ff" stroke="#000" stroke-width="1.2"/>
<rect x="252.39" y="317.90" width="9.50" height="10.00" fill="#4444ff" stroke="#000" stroke-width="1.2"/>
<rect x="266.98" y="321.30" width="9.50" height="10.00" fill="#4444ff" stroke="#000" stroke-width="1.2"/>
<rect x="281.57" y="325.70" width="9.50" height="10.00" fill="#4444ff" stroke="#000" stroke-width="1.2"/>
<rect x="296.16" y="331.30" width="9.50" height="10.00" fill="#4444ff" stroke="#000" stroke-width="1.2"/>
<rect x="310.75" y="337.70" width="9.50" height="10.00" fill="#4444ff" stroke="#000" stroke-width="1.2"/>
<rect x="325.35" y="345.00" width="9.50" height="10.00" fill="#4444ff" stroke="#000" stroke-width="1.2"/>
<rect x="339.94" y="352.00" width="9.50" height="10.00" fill="#4444ff" stroke="#000" stroke-width="1.2"/>
<rect x="354.53" y="359.40" width="9.50" height="10.00" fill="#4444ff" stroke="#000" stroke-width="1.2"/>
<rect x="369.12" y="367.00" width="9.50" height="10.00" fill="#4444ff" stroke="#000" stroke-width="1.2"/>
<rect x="383.71" y="374.40" width="9.50" height="10.00" fill="#4444ff" stroke="#000" stroke-width="1.2"/>
<rect x="398.31" y="381.70" width="9.50" height="10.00" fill="#4444ff" stroke="#000" stroke-width="1.2"/>
<rect x="412.90" y="389.00" width="9.50" height="10.00" fill="#4444ff" stroke="#000" stroke-width="1.2"/>
<rect x="427.49" y="396.10" width="9.50" height="10.00" fill="#4444ff" stroke="#000" stroke-width="1.2"/>
<rect x="442.08" y="403.40" width="9.50" height="10.00" fill="#4444ff" stroke="#000" stroke-width="1.2"/>
<rect x="456.67" y="410.70" width="9.50" height="10.00" fill="#4444ff" stroke="#000" stroke-width="1.2"/>
<rect x="471.27" y="418.20" width="9.50" height="10.00" fill="#4444ff" stroke="#000" stroke-width="1.2"/>
<rect x="485.86" y="425.20" width="9.50" height="10.00" fill="#4444ff" stroke="#000" stroke-width="1.2"/>
<rect x="500.45" y="432.20" width="9.50" height="10.00" fill="#4444ff" stroke="#000" stroke-width="1.2"/>
<rect x="515.04" y="439.00" width="9.50" height="10.00" fill="#4444ff" stroke="#000" stroke-width="1.2"/>
<rect x="529.63" y="445.80" width="9.50" height="10.00" fill="#4444ff" stroke="#000" stroke-width="1.2"/>
<rect x="544.23" y="452.80" width="9.50" height="10.00" fill="#4444ff" stroke="#000" stroke-width="1.2"/>
<rect x="558.82" y="459.60" width="9.50" height="10.00" fill="#4444ff" stroke="#000" stroke-width="1.2"/>
<rect x="573.41" y="466.70" width="9.50" height="10.00" fill="#4444ff" stroke="#000" stroke-width="1.2"/>
<rect x="588.00" y="473.30" width="9.50" height="10.00" fill="#4444ff" stroke="#000" stroke-width="1.2"/>
<rect x="602.59" y="480.00" width="9.50" height="10.00" fill="#4444ff" stroke="#000" stroke-width="1.2"/>
<rect x="617.19" y="486.40" width="9.50" height="10.00" fill="#4444ff" stroke="#000" stroke-width="1.2"/>
<rect x="631.78" y="492.40" width="9.50" height="10.00" fill="#4444ff" stroke="#000" stroke-width="1.2"/>
<rect x="646.37" y="498.00" width="9.50" height="10.00" fill="#4444ff" stroke="#000" stroke-width="1.2"/>
<rect x="660.96" y="502.80" width="9.50" height="10.00" fill="#4444ff" stroke="#000" stroke-width="1.2"/>
<rect x="675.55" y="507.00" width="9.50" height="10.00" fill="#4444ff" stroke="#000" stroke-width="1.2"/>
<rect x="690.15" y="510.10" width="9.50" height="10.00" fill="#4444ff" stroke="#000" stroke-width="1.2"/>
<rect x="704.74" y="512.40" width="9.50" height="10.00" fill="#4444ff" stroke="#000" stroke-width="1.2"/>
<rect x="719.33" y="514.40" width="9.50" height="10.00" fill="#4444ff" stroke="#000" stroke-width="1.2"/>
<rect x="733.92" y="515.80" width="9.50" height="10.00" fill="#4444ff" stroke="#000" stroke-width="1.2"/>
<rect x="748.51" y="517.00" width="9.50" height="10.00" fill="#4444ff" stroke="#000" stroke-width="1.2"/>
<rect x="763.11" y="517.80" width="9.50" height="10.00" fill="#4444ff" stroke="#000" stroke-width="1.2"/>
<rect x="777.70" y="518.50" width="9.50" height="10.00" fill="#4444ff" stroke="#000" stroke-width="1.2"/>
<rect x="792.29" y="518.80" width="9.50" height="10.00" fill="#4444ff" stroke="#000" stroke-width="1.2"/>
<rect x="806.88" y="519.20" width="9.50" height="10.00" fill="#4444ff" stroke="#000" stroke-width="1.2"/>
<rect x="821.47" y="519.40" width="9.50" height="10.00" fill="#4444ff" stroke="#000" stroke-width="1.2"/>
<rect x="836.07" y="519.50" width="9.50" height="10.00" fill="#4444ff" stroke="#000" stroke-width="1.2"/>
<rect x="850.66" y="519.50" width="9.50" height="10.00" fill="#4444ff" stroke="#000" stroke-width="1.2"/>
<rect x="865.25" y="519.50" width="9.50" height="10.00" fill="#4444ff" stroke="#000" stroke-width="1.2"/>
<line x1="172.50" y1="315.00" x2="258.00" y2="258.00" stroke="#1010f5" stroke-width="1.7" stroke-linecap="butt"/>
<line x1="172.50" y1="328.80" x2="256.00" y2="275.00" stroke="#000" stroke-width="1.6" stroke-linecap="butt"/>
<line x1="228.75" y1="327.50" x2="254.10" y2="379.00" stroke="#0a6f0a" stroke-width="1.7" stroke-linecap="butt"/>
<line x1="163.00" y1="353.75" x2="189.70" y2="433.60" stroke="#0a6f0a" stroke-width="1.7" stroke-linecap="butt"/>
<text transform="translate(255.81,235.00) scale(1.0149,1)" font-family="Liberation Sans, sans-serif" font-weight="bold" font-size="26.09" fill="#000" xml:space="preserve">Zr-CrCC</text>
<text transform="translate(259.02,262.40) scale(1.0248,1)" font-family="Liberation Sans, sans-serif" font-weight="bold" font-size="18.50" fill="#1010ff" xml:space="preserve">1 week</text>
<text transform="translate(259.09,281.80) scale(0.9623,1)" font-family="Liberation Sans, sans-serif" font-weight="bold" font-size="18.60" fill="#000" xml:space="preserve">1 hour</text>
<text transform="translate(220.35,388.00) scale(1.0301,1)" font-family="Liberation Sans, sans-serif" font-weight="bold" font-size="18.60" fill="#10c410" xml:space="preserve">1 week</text>
<text transform="translate(168.31,443.10) scale(0.9762,1)" font-family="Liberation Sans, sans-serif" font-weight="bold" font-size="18.80" fill="#10c410" xml:space="preserve">1 hour</text>
<text transform="translate(247.41,444.90) scale(1.0333,1)" font-family="Liberation Sans, sans-serif" font-weight="bold" font-size="26.30" fill="#10c410" xml:space="preserve">Ground</text>
<line x1="140.50" y1="753.20" x2="140.50" y2="1268.30" stroke="#000" stroke-width="1.5" stroke-linecap="butt"/>
<line x1="140.50" y1="753.90" x2="868.70" y2="753.90" stroke="#000" stroke-width="1.4" stroke-linecap="butt"/>
<line x1="868.70" y1="753.20" x2="868.70" y2="1268.30" stroke="#000" stroke-width="1.6" stroke-linecap="butt"/>
<line x1="140.50" y1="1267.50" x2="869.40" y2="1267.50" stroke="#000" stroke-width="1.6" stroke-linecap="butt"/>
<line x1="868.20" y1="1267.50" x2="884.20" y2="1267.50" stroke="#000" stroke-width="2.5" stroke-linecap="round"/>
<line x1="868.70" y1="1248.48" x2="879.20" y2="1248.48" stroke="#000" stroke-width="1.7" stroke-linecap="round"/>
<line x1="868.70" y1="1229.46" x2="879.20" y2="1229.46" stroke="#000" stroke-width="1.7" stroke-linecap="round"/>
<line x1="868.20" y1="1210.43" x2="884.20" y2="1210.43" stroke="#000" stroke-width="2.5" stroke-linecap="round"/>
<line x1="868.70" y1="1191.41" x2="879.20" y2="1191.41" stroke="#000" stroke-width="1.7" stroke-linecap="round"/>
<line x1="868.70" y1="1172.39" x2="879.20" y2="1172.39" stroke="#000" stroke-width="1.7" stroke-linecap="round"/>
<line x1="868.20" y1="1153.37" x2="884.20" y2="1153.37" stroke="#000" stroke-width="2.5" stroke-linecap="round"/>
<line x1="868.70" y1="1134.34" x2="879.20" y2="1134.34" stroke="#000" stroke-width="1.7" stroke-linecap="round"/>
<line x1="868.70" y1="1115.32" x2="879.20" y2="1115.32" stroke="#000" stroke-width="1.7" stroke-linecap="round"/>
<line x1="868.20" y1="1096.30" x2="884.20" y2="1096.30" stroke="#000" stroke-width="2.5" stroke-linecap="round"/>
<line x1="868.70" y1="1077.28" x2="879.20" y2="1077.28" stroke="#000" stroke-width="1.7" stroke-linecap="round"/>
<line x1="868.70" y1="1058.26" x2="879.20" y2="1058.26" stroke="#000" stroke-width="1.7" stroke-linecap="round"/>
<line x1="868.20" y1="1039.23" x2="884.20" y2="1039.23" stroke="#000" stroke-width="2.5" stroke-linecap="round"/>
<line x1="868.70" y1="1020.21" x2="879.20" y2="1020.21" stroke="#000" stroke-width="1.7" stroke-linecap="round"/>
<line x1="868.70" y1="1001.19" x2="879.20" y2="1001.19" stroke="#000" stroke-width="1.7" stroke-linecap="round"/>
<line x1="868.20" y1="982.17" x2="884.20" y2="982.17" stroke="#000" stroke-width="2.5" stroke-linecap="round"/>
<line x1="868.70" y1="963.14" x2="879.20" y2="963.14" stroke="#000" stroke-width="1.7" stroke-linecap="round"/>
<line x1="868.70" y1="944.12" x2="879.20" y2="944.12" stroke="#000" stroke-width="1.7" stroke-linecap="round"/>
<line x1="868.20" y1="925.10" x2="884.20" y2="925.10" stroke="#000" stroke-width="2.5" stroke-linecap="round"/>
<line x1="868.70" y1="906.08" x2="879.20" y2="906.08" stroke="#000" stroke-width="1.7" stroke-linecap="round"/>
<line x1="868.70" y1="887.06" x2="879.20" y2="887.06" stroke="#000" stroke-width="1.7" stroke-linecap="round"/>
<line x1="868.20" y1="868.03" x2="884.20" y2="868.03" stroke="#000" stroke-width="2.5" stroke-linecap="round"/>
<line x1="868.70" y1="849.01" x2="879.20" y2="849.01" stroke="#000" stroke-width="1.7" stroke-linecap="round"/>
<line x1="868.70" y1="829.99" x2="879.20" y2="829.99" stroke="#000" stroke-width="1.7" stroke-linecap="round"/>
<line x1="868.20" y1="810.97" x2="884.20" y2="810.97" stroke="#000" stroke-width="2.5" stroke-linecap="round"/>
<line x1="868.70" y1="791.94" x2="879.20" y2="791.94" stroke="#000" stroke-width="1.7" stroke-linecap="round"/>
<line x1="868.70" y1="772.92" x2="879.20" y2="772.92" stroke="#000" stroke-width="1.7" stroke-linecap="round"/>
<line x1="868.20" y1="753.90" x2="884.20" y2="753.90" stroke="#000" stroke-width="2.5" stroke-linecap="round"/>
<line x1="140.50" y1="1267.50" x2="140.50" y2="1282.60" stroke="#000" stroke-width="2.5" stroke-linecap="round"/>
<line x1="175.28" y1="1267.50" x2="175.28" y2="1277.90" stroke="#000" stroke-width="1.7" stroke-linecap="round"/>
<line x1="195.63" y1="1267.50" x2="195.63" y2="1277.90" stroke="#000" stroke-width="1.7" stroke-linecap="round"/>
<line x1="210.06" y1="1267.50" x2="210.06" y2="1277.90" stroke="#000" stroke-width="1.7" stroke-linecap="round"/>
<line x1="221.26" y1="1267.50" x2="221.26" y2="1277.90" stroke="#000" stroke-width="1.7" stroke-linecap="round"/>
<line x1="230.41" y1="1267.50" x2="230.41" y2="1277.90" stroke="#000" stroke-width="1.7" stroke-linecap="round"/>
<line x1="238.14" y1="1267.50" x2="238.14" y2="1277.90" stroke="#000" stroke-width="1.7" stroke-linecap="round"/>
<line x1="244.84" y1="1267.50" x2="244.84" y2="1277.90" stroke="#000" stroke-width="1.7" stroke-linecap="round"/>
<line x1="250.75" y1="1267.50" x2="250.75" y2="1277.90" stroke="#000" stroke-width="1.7" stroke-linecap="round"/>
<line x1="256.04" y1="1267.50" x2="256.04" y2="1282.60" stroke="#000" stroke-width="2.5" stroke-linecap="round"/>
<line x1="290.82" y1="1267.50" x2="290.82" y2="1277.90" stroke="#000" stroke-width="1.7" stroke-linecap="round"/>
<line x1="311.17" y1="1267.50" x2="311.17" y2="1277.90" stroke="#000" stroke-width="1.7" stroke-linecap="round"/>
<line x1="325.60" y1="1267.50" x2="325.60" y2="1277.90" stroke="#000" stroke-width="1.7" stroke-linecap="round"/>
<line x1="336.80" y1="1267.50" x2="336.80" y2="1277.90" stroke="#000" stroke-width="1.7" stroke-linecap="round"/>
<line x1="345.95" y1="1267.50" x2="345.95" y2="1277.90" stroke="#000" stroke-width="1.7" stroke-linecap="round"/>
<line x1="353.68" y1="1267.50" x2="353.68" y2="1277.90" stroke="#000" stroke-width="1.7" stroke-linecap="round"/>
<line x1="360.38" y1="1267.50" x2="360.38" y2="1277.90" stroke="#000" stroke-width="1.7" stroke-linecap="round"/>
<line x1="366.29" y1="1267.50" x2="366.29" y2="1277.90" stroke="#000" stroke-width="1.7" stroke-linecap="round"/>
<line x1="371.58" y1="1267.50" x2="371.58" y2="1282.60" stroke="#000" stroke-width="2.5" stroke-linecap="round"/>
<line x1="406.36" y1="1267.50" x2="406.36" y2="1277.90" stroke="#000" stroke-width="1.7" stroke-linecap="round"/>
<line x1="426.71" y1="1267.50" x2="426.71" y2="1277.90" stroke="#000" stroke-width="1.7" stroke-linecap="round"/>
<line x1="441.14" y1="1267.50" x2="441.14" y2="1277.90" stroke="#000" stroke-width="1.7" stroke-linecap="round"/>
<line x1="452.34" y1="1267.50" x2="452.34" y2="1277.90" stroke="#000" stroke-width="1.7" stroke-linecap="round"/>
<line x1="461.49" y1="1267.50" x2="461.49" y2="1277.90" stroke="#000" stroke-width="1.7" stroke-linecap="round"/>
<line x1="469.22" y1="1267.50" x2="469.22" y2="1277.90" stroke="#000" stroke-width="1.7" stroke-linecap="round"/>
<line x1="475.92" y1="1267.50" x2="475.92" y2="1277.90" stroke="#000" stroke-width="1.7" stroke-linecap="round"/>
<line x1="481.83" y1="1267.50" x2="481.83" y2="1277.90" stroke="#000" stroke-width="1.7" stroke-linecap="round"/>
<line x1="487.12" y1="1267.50" x2="487.12" y2="1282.60" stroke="#000" stroke-width="2.5" stroke-linecap="round"/>
<line x1="521.90" y1="1267.50" x2="521.90" y2="1277.90" stroke="#000" stroke-width="1.7" stroke-linecap="round"/>
<line x1="542.25" y1="1267.50" x2="542.25" y2="1277.90" stroke="#000" stroke-width="1.7" stroke-linecap="round"/>
<line x1="556.68" y1="1267.50" x2="556.68" y2="1277.90" stroke="#000" stroke-width="1.7" stroke-linecap="round"/>
<line x1="567.88" y1="1267.50" x2="567.88" y2="1277.90" stroke="#000" stroke-width="1.7" stroke-linecap="round"/>
<line x1="577.03" y1="1267.50" x2="577.03" y2="1277.90" stroke="#000" stroke-width="1.7" stroke-linecap="round"/>
<line x1="584.76" y1="1267.50" x2="584.76" y2="1277.90" stroke="#000" stroke-width="1.7" stroke-linecap="round"/>
<line x1="591.46" y1="1267.50" x2="591.46" y2="1277.90" stroke="#000" stroke-width="1.7" stroke-linecap="round"/>
<line x1="597.37" y1="1267.50" x2="597.37" y2="1277.90" stroke="#000" stroke-width="1.7" stroke-linecap="round"/>
<line x1="602.66" y1="1267.50" x2="602.66" y2="1282.60" stroke="#000" stroke-width="2.5" stroke-linecap="round"/>
<line x1="637.44" y1="1267.50" x2="637.44" y2="1277.90" stroke="#000" stroke-width="1.7" stroke-linecap="round"/>
<line x1="657.79" y1="1267.50" x2="657.79" y2="1277.90" stroke="#000" stroke-width="1.7" stroke-linecap="round"/>
<line x1="672.22" y1="1267.50" x2="672.22" y2="1277.90" stroke="#000" stroke-width="1.7" stroke-linecap="round"/>
<line x1="683.42" y1="1267.50" x2="683.42" y2="1277.90" stroke="#000" stroke-width="1.7" stroke-linecap="round"/>
<line x1="692.57" y1="1267.50" x2="692.57" y2="1277.90" stroke="#000" stroke-width="1.7" stroke-linecap="round"/>
<line x1="700.30" y1="1267.50" x2="700.30" y2="1277.90" stroke="#000" stroke-width="1.7" stroke-linecap="round"/>
<line x1="707.00" y1="1267.50" x2="707.00" y2="1277.90" stroke="#000" stroke-width="1.7" stroke-linecap="round"/>
<line x1="712.91" y1="1267.50" x2="712.91" y2="1277.90" stroke="#000" stroke-width="1.7" stroke-linecap="round"/>
<line x1="718.20" y1="1267.50" x2="718.20" y2="1282.60" stroke="#000" stroke-width="2.5" stroke-linecap="round"/>
<line x1="752.98" y1="1267.50" x2="752.98" y2="1277.90" stroke="#000" stroke-width="1.7" stroke-linecap="round"/>
<line x1="773.33" y1="1267.50" x2="773.33" y2="1277.90" stroke="#000" stroke-width="1.7" stroke-linecap="round"/>
<line x1="787.76" y1="1267.50" x2="787.76" y2="1277.90" stroke="#000" stroke-width="1.7" stroke-linecap="round"/>
<line x1="798.96" y1="1267.50" x2="798.96" y2="1277.90" stroke="#000" stroke-width="1.7" stroke-linecap="round"/>
<line x1="808.11" y1="1267.50" x2="808.11" y2="1277.90" stroke="#000" stroke-width="1.7" stroke-linecap="round"/>
<line x1="815.84" y1="1267.50" x2="815.84" y2="1277.90" stroke="#000" stroke-width="1.7" stroke-linecap="round"/>
<line x1="822.54" y1="1267.50" x2="822.54" y2="1277.90" stroke="#000" stroke-width="1.7" stroke-linecap="round"/>
<line x1="828.45" y1="1267.50" x2="828.45" y2="1277.90" stroke="#000" stroke-width="1.7" stroke-linecap="round"/>
<line x1="833.74" y1="1267.50" x2="833.74" y2="1282.60" stroke="#000" stroke-width="2.5" stroke-linecap="round"/>
<line x1="868.52" y1="1267.50" x2="868.52" y2="1277.90" stroke="#000" stroke-width="1.7" stroke-linecap="round"/>
<text transform="translate(112.90,1330.20) scale(0.9783,1)" font-family="Liberation Sans, sans-serif" font-weight="bold" font-size="33.77" fill="#000" xml:space="preserve">10</text>
<text transform="translate(149.01,1319.70) scale(0.9600,1)" font-family="Liberation Sans, sans-serif" font-weight="bold" font-size="21.86" fill="#000" xml:space="preserve">-2</text>
<text transform="translate(228.34,1330.20) scale(0.9783,1)" font-family="Liberation Sans, sans-serif" font-weight="bold" font-size="33.77" fill="#000" xml:space="preserve">10</text>
<text transform="translate(264.45,1319.70) scale(0.9600,1)" font-family="Liberation Sans, sans-serif" font-weight="bold" font-size="21.86" fill="#000" xml:space="preserve">-1</text>
<text transform="translate(347.50,1330.20) scale(0.9783,1)" font-family="Liberation Sans, sans-serif" font-weight="bold" font-size="33.77" fill="#000" xml:space="preserve">10</text>
<text transform="translate(383.61,1319.70) scale(0.9600,1)" font-family="Liberation Sans, sans-serif" font-weight="bold" font-size="21.86" fill="#000" xml:space="preserve">0</text>
<text transform="translate(463.14,1330.20) scale(0.9783,1)" font-family="Liberation Sans, sans-serif" font-weight="bold" font-size="33.77" fill="#000" xml:space="preserve">10</text>
<text transform="translate(498.73,1319.70) scale(0.9600,1)" font-family="Liberation Sans, sans-serif" font-weight="bold" font-size="21.86" fill="#000" xml:space="preserve">1</text>
<text transform="translate(578.53,1330.20) scale(0.9783,1)" font-family="Liberation Sans, sans-serif" font-weight="bold" font-size="33.77" fill="#000" xml:space="preserve">10</text>
<text transform="translate(614.74,1319.70) scale(0.9600,1)" font-family="Liberation Sans, sans-serif" font-weight="bold" font-size="21.86" fill="#000" xml:space="preserve">2</text>
<text transform="translate(693.91,1330.20) scale(0.9783,1)" font-family="Liberation Sans, sans-serif" font-weight="bold" font-size="33.77" fill="#000" xml:space="preserve">10</text>
<text transform="translate(730.33,1319.70) scale(0.9600,1)" font-family="Liberation Sans, sans-serif" font-weight="bold" font-size="21.86" fill="#000" xml:space="preserve">3</text>
<text transform="translate(809.03,1330.20) scale(0.9783,1)" font-family="Liberation Sans, sans-serif" font-weight="bold" font-size="33.77" fill="#000" xml:space="preserve">10</text>
<text transform="translate(845.66,1319.70) scale(0.9600,1)" font-family="Liberation Sans, sans-serif" font-weight="bold" font-size="21.86" fill="#000" xml:space="preserve">4</text>
<text transform="translate(900.50,1279.50) scale(0.9850,1)" font-family="Liberation Sans, sans-serif" font-weight="bold" font-size="34.20" fill="#000" xml:space="preserve">0</text>
<text transform="translate(900.50,1222.43) scale(0.9850,1)" font-family="Liberation Sans, sans-serif" font-weight="bold" font-size="34.20" fill="#000" xml:space="preserve">10</text>
<text transform="translate(900.50,1165.37) scale(0.9850,1)" font-family="Liberation Sans, sans-serif" font-weight="bold" font-size="34.20" fill="#000" xml:space="preserve">20</text>
<text transform="translate(900.50,1108.30) scale(0.9850,1)" font-family="Liberation Sans, sans-serif" font-weight="bold" font-size="34.20" fill="#000" xml:space="preserve">30</text>
<text transform="translate(900.50,1051.23) scale(0.9850,1)" font-family="Liberation Sans, sans-serif" font-weight="bold" font-size="34.20" fill="#000" xml:space="preserve">40</text>
<text transform="translate(900.50,994.17) scale(0.9850,1)" font-family="Liberation Sans, sans-serif" font-weight="bold" font-size="34.20" fill="#000" xml:space="preserve">50</text>
<text transform="translate(900.50,937.10) scale(0.9850,1)" font-family="Liberation Sans, sans-serif" font-weight="bold" font-size="34.20" fill="#000" xml:space="preserve">60</text>
<text transform="translate(900.50,880.03) scale(0.9850,1)" font-family="Liberation Sans, sans-serif" font-weight="bold" font-size="34.20" fill="#000" xml:space="preserve">70</text>
<text transform="translate(900.50,822.97) scale(0.9850,1)" font-family="Liberation Sans, sans-serif" font-weight="bold" font-size="34.20" fill="#000" xml:space="preserve">80</text>
<text transform="translate(900.50,765.90) scale(0.9850,1)" font-family="Liberation Sans, sans-serif" font-weight="bold" font-size="34.20" fill="#000" xml:space="preserve">90</text>
<text transform="translate(418.66,1369.40) scale(1.0150,1)" font-family="Liberation Sans, sans-serif" font-weight="bold" font-size="32.50" fill="#000" xml:space="preserve">Frequency [Hz]</text>
<text transform="translate(487.93,1418.00) scale(1.0688,1)" font-family="Liberation Sans, sans-serif" font-weight="bold" font-size="38.70" fill="#000" xml:space="preserve">(b)</text>
<g transform="translate(991.2,0) rotate(-90)">
<text transform="translate(-1161.21,0.00) scale(1.0146,1)" font-family="Liberation Sans, sans-serif" font-weight="bold" font-size="32.20" fill="#000" xml:space="preserve">- phase angle [°]</text>
</g>
<path d="M135.00 944.55L146.00 944.55L140.50 954.35Z" fill="#00b400" stroke="#000" stroke-width="1.1" stroke-linejoin="miter"/>
<path d="M151.18 961.55L162.18 961.55L156.68 971.35Z" fill="#00b400" stroke="#000" stroke-width="1.1" stroke-linejoin="miter"/>
<path d="M167.36 972.30L178.36 972.30L172.86 982.10Z" fill="#00b400" stroke="#000" stroke-width="1.1" stroke-linejoin="miter"/>
<path d="M183.55 997.30L194.55 997.30L189.05 1007.10Z" fill="#00b400" stroke="#000" stroke-width="1.1" stroke-linejoin="miter"/>
<path d="M199.73 1022.30L210.73 1022.30L205.23 1032.10Z" fill="#00b400" stroke="#000" stroke-width="1.1" stroke-linejoin="miter"/>
<path d="M215.91 1047.30L226.91 1047.30L221.41 1057.10Z" fill="#00b400" stroke="#000" stroke-width="1.1" stroke-linejoin="miter"/>
<path d="M232.09 1077.05L243.09 1077.05L237.59 1086.85Z" fill="#00b400" stroke="#000" stroke-width="1.1" stroke-linejoin="miter"/>
<path d="M248.28 1094.30L259.28 1094.30L253.78 1104.10Z" fill="#00b400" stroke="#000" stroke-width="1.1" stroke-linejoin="miter"/>
<path d="M264.46 1104.30L275.46 1104.30L269.96 1114.10Z" fill="#00b400" stroke="#000" stroke-width="1.1" stroke-linejoin="miter"/>
<path d="M280.64 1101.05L291.64 1101.05L286.14 1110.85Z" fill="#00b400" stroke="#000" stroke-width="1.1" stroke-linejoin="miter"/>
<path d="M296.82 1089.90L307.82 1089.90L302.32 1099.70Z" fill="#00b400" stroke="#000" stroke-width="1.1" stroke-linejoin="miter"/>
<path d="M313.00 1069.30L324.00 1069.30L318.50 1079.10Z" fill="#00b400" stroke="#000" stroke-width="1.1" stroke-linejoin="miter"/>
<path d="M329.19 1035.30L340.19 1035.30L334.69 1045.10Z" fill="#00b400" stroke="#000" stroke-width="1.1" stroke-linejoin="miter"/>
<path d="M345.37 997.30L356.37 997.30L350.87 1007.10Z" fill="#00b400" stroke="#000" stroke-width="1.1" stroke-linejoin="miter"/>
<path d="M361.55 958.30L372.55 958.30L367.05 968.10Z" fill="#00b400" stroke="#000" stroke-width="1.1" stroke-linejoin="miter"/>
<path d="M377.73 923.30L388.73 923.30L383.23 933.10Z" fill="#00b400" stroke="#000" stroke-width="1.1" stroke-linejoin="miter"/>
<path d="M393.92 894.80L404.92 894.80L399.42 904.60Z" fill="#00b400" stroke="#000" stroke-width="1.1" stroke-linejoin="miter"/>
<path d="M410.10 871.55L421.10 871.55L415.60 881.35Z" fill="#00b400" stroke="#000" stroke-width="1.1" stroke-linejoin="miter"/>
<path d="M426.28 853.90L437.28 853.90L431.78 863.70Z" fill="#00b400" stroke="#000" stroke-width="1.1" stroke-linejoin="miter"/>
<path d="M442.46 840.30L453.46 840.30L447.96 850.10Z" fill="#00b400" stroke="#000" stroke-width="1.1" stroke-linejoin="miter"/>
<path d="M458.64 829.90L469.64 829.90L464.14 839.70Z" fill="#00b400" stroke="#000" stroke-width="1.1" stroke-linejoin="miter"/>
<path d="M474.83 822.90L485.83 822.90L480.33 832.70Z" fill="#00b400" stroke="#000" stroke-width="1.1" stroke-linejoin="miter"/>
<path d="M491.01 818.30L502.01 818.30L496.51 828.10Z" fill="#00b400" stroke="#000" stroke-width="1.1" stroke-linejoin="miter"/>
<path d="M507.19 815.50L518.19 815.50L512.69 825.30Z" fill="#00b400" stroke="#000" stroke-width="1.1" stroke-linejoin="miter"/>
<path d="M523.37 815.10L534.37 815.10L528.87 824.90Z" fill="#00b400" stroke="#000" stroke-width="1.1" stroke-linejoin="miter"/>
<path d="M539.56 814.70L550.56 814.70L545.06 824.50Z" fill="#00b400" stroke="#000" stroke-width="1.1" stroke-linejoin="miter"/>
<path d="M555.74 817.30L566.74 817.30L561.24 827.10Z" fill="#00b400" stroke="#000" stroke-width="1.1" stroke-linejoin="miter"/>
<path d="M571.92 821.30L582.92 821.30L577.42 831.10Z" fill="#00b400" stroke="#000" stroke-width="1.1" stroke-linejoin="miter"/>
<path d="M588.10 828.10L599.10 828.10L593.60 837.90Z" fill="#00b400" stroke="#000" stroke-width="1.1" stroke-linejoin="miter"/>
<path d="M604.28 837.30L615.28 837.30L609.78 847.10Z" fill="#00b400" stroke="#000" stroke-width="1.1" stroke-linejoin="miter"/>
<path d="M620.47 849.30L631.47 849.30L625.97 859.10Z" fill="#00b400" stroke="#000" stroke-width="1.1" stroke-linejoin="miter"/>
<path d="M636.65 868.90L647.65 868.90L642.15 878.70Z" fill="#00b400" stroke="#000" stroke-width="1.1" stroke-linejoin="miter"/>
<path d="M652.83 892.30L663.83 892.30L658.33 902.10Z" fill="#00b400" stroke="#000" stroke-width="1.1" stroke-linejoin="miter"/>
<path d="M669.01 920.90L680.01 920.90L674.51 930.70Z" fill="#00b400" stroke="#000" stroke-width="1.1" stroke-linejoin="miter"/>
<path d="M685.20 955.90L696.20 955.90L690.70 965.70Z" fill="#00b400" stroke="#000" stroke-width="1.1" stroke-linejoin="miter"/>
<path d="M701.38 994.90L712.38 994.90L706.88 1004.70Z" fill="#00b400" stroke="#000" stroke-width="1.1" stroke-linejoin="miter"/>
<path d="M717.56 1037.90L728.56 1037.90L723.06 1047.70Z" fill="#00b400" stroke="#000" stroke-width="1.1" stroke-linejoin="miter"/>
<path d="M733.74 1078.90L744.74 1078.90L739.24 1088.70Z" fill="#00b400" stroke="#000" stroke-width="1.1" stroke-linejoin="miter"/>
<path d="M749.92 1116.00L760.92 1116.00L755.42 1125.80Z" fill="#00b400" stroke="#000" stroke-width="1.1" stroke-linejoin="miter"/>
<path d="M766.11 1147.90L777.11 1147.90L771.61 1157.70Z" fill="#00b400" stroke="#000" stroke-width="1.1" stroke-linejoin="miter"/>
<path d="M782.29 1173.20L793.29 1173.20L787.79 1183.00Z" fill="#00b400" stroke="#000" stroke-width="1.1" stroke-linejoin="miter"/>
<path d="M798.47 1193.90L809.47 1193.90L803.97 1203.70Z" fill="#00b400" stroke="#000" stroke-width="1.1" stroke-linejoin="miter"/>
<path d="M814.65 1210.00L825.65 1210.00L820.15 1219.80Z" fill="#00b400" stroke="#000" stroke-width="1.1" stroke-linejoin="miter"/>
<path d="M830.84 1222.20L841.84 1222.20L836.34 1232.00Z" fill="#00b400" stroke="#000" stroke-width="1.1" stroke-linejoin="miter"/>
<path d="M847.02 1232.10L858.02 1232.10L852.52 1241.90Z" fill="#00b400" stroke="#000" stroke-width="1.1" stroke-linejoin="miter"/>
<path d="M863.20 1239.60L874.20 1239.60L868.70 1249.40Z" fill="#00b400" stroke="#000" stroke-width="1.1" stroke-linejoin="miter"/>
<rect x="135.70" y="1224.25" width="9.60" height="10.00" fill="#00b400" stroke="#000" stroke-width="1.2"/>
<rect x="151.88" y="1228.50" width="9.60" height="10.00" fill="#00b400" stroke="#000" stroke-width="1.2"/>
<rect x="168.06" y="1229.50" width="9.60" height="10.00" fill="#00b400" stroke="#000" stroke-width="1.2"/>
<rect x="184.25" y="1227.75" width="9.60" height="10.00" fill="#00b400" stroke="#000" stroke-width="1.2"/>
<rect x="200.43" y="1222.25" width="9.60" height="10.00" fill="#00b400" stroke="#000" stroke-width="1.2"/>
<rect x="216.61" y="1212.50" width="9.60" height="10.00" fill="#00b400" stroke="#000" stroke-width="1.2"/>
<rect x="232.79" y="1197.75" width="9.60" height="10.00" fill="#00b400" stroke="#000" stroke-width="1.2"/>
<rect x="248.98" y="1176.25" width="9.60" height="10.00" fill="#00b400" stroke="#000" stroke-width="1.2"/>
<rect x="265.16" y="1145.50" width="9.60" height="10.00" fill="#00b400" stroke="#000" stroke-width="1.2"/>
<rect x="281.34" y="1106.75" width="9.60" height="10.00" fill="#00b400" stroke="#000" stroke-width="1.2"/>
<rect x="297.52" y="1064.00" width="9.60" height="10.00" fill="#00b400" stroke="#000" stroke-width="1.2"/>
<rect x="313.70" y="1017.00" width="9.60" height="10.00" fill="#00b400" stroke="#000" stroke-width="1.2"/>
<rect x="329.89" y="972.00" width="9.60" height="10.00" fill="#00b400" stroke="#000" stroke-width="1.2"/>
<rect x="346.07" y="932.00" width="9.60" height="10.00" fill="#00b400" stroke="#000" stroke-width="1.2"/>
<rect x="362.25" y="899.25" width="9.60" height="10.00" fill="#00b400" stroke="#000" stroke-width="1.2"/>
<rect x="378.43" y="870.75" width="9.60" height="10.00" fill="#00b400" stroke="#000" stroke-width="1.2"/>
<rect x="394.62" y="852.50" width="9.60" height="10.00" fill="#00b400" stroke="#000" stroke-width="1.2"/>
<rect x="410.80" y="835.00" width="9.60" height="10.00" fill="#00b400" stroke="#000" stroke-width="1.2"/>
<rect x="426.98" y="825.00" width="9.60" height="10.00" fill="#00b400" stroke="#000" stroke-width="1.2"/>
<rect x="443.16" y="815.00" width="9.60" height="10.00" fill="#00b400" stroke="#000" stroke-width="1.2"/>
<rect x="459.34" y="807.50" width="9.60" height="10.00" fill="#00b400" stroke="#000" stroke-width="1.2"/>
<rect x="475.53" y="803.00" width="9.60" height="10.00" fill="#00b400" stroke="#000" stroke-width="1.2"/>
<rect x="491.71" y="799.60" width="9.60" height="10.00" fill="#00b400" stroke="#000" stroke-width="1.2"/>
<rect x="507.89" y="798.00" width="9.60" height="10.00" fill="#00b400" stroke="#000" stroke-width="1.2"/>
<rect x="524.07" y="798.00" width="9.60" height="10.00" fill="#00b400" stroke="#000" stroke-width="1.2"/>
<rect x="540.26" y="799.00" width="9.60" height="10.00" fill="#00b400" stroke="#000" stroke-width="1.2"/>
<rect x="556.44" y="802.40" width="9.60" height="10.00" fill="#00b400" stroke="#000" stroke-width="1.2"/>
<rect x="572.62" y="807.00" width="9.60" height="10.00" fill="#00b400" stroke="#000" stroke-width="1.2"/>
<rect x="588.80" y="814.40" width="9.60" height="10.00" fill="#00b400" stroke="#000" stroke-width="1.2"/>
<rect x="604.98" y="825.00" width="9.60" height="10.00" fill="#00b400" stroke="#000" stroke-width="1.2"/>
<rect x="621.17" y="838.00" width="9.60" height="10.00" fill="#00b400" stroke="#000" stroke-width="1.2"/>
<rect x="637.35" y="859.00" width="9.60" height="10.00" fill="#00b400" stroke="#000" stroke-width="1.2"/>
<rect x="653.53" y="884.40" width="9.60" height="10.00" fill="#00b400" stroke="#000" stroke-width="1.2"/>
<rect x="669.71" y="915.00" width="9.60" height="10.00" fill="#00b400" stroke="#000" stroke-width="1.2"/>
<rect x="685.90" y="952.00" width="9.60" height="10.00" fill="#00b400" stroke="#000" stroke-width="1.2"/>
<rect x="702.08" y="993.40" width="9.60" height="10.00" fill="#00b400" stroke="#000" stroke-width="1.2"/>
<rect x="718.26" y="1036.60" width="9.60" height="10.00" fill="#00b400" stroke="#000" stroke-width="1.2"/>
<rect x="734.44" y="1077.60" width="9.60" height="10.00" fill="#00b400" stroke="#000" stroke-width="1.2"/>
<rect x="750.62" y="1114.70" width="9.60" height="10.00" fill="#00b400" stroke="#000" stroke-width="1.2"/>
<rect x="766.81" y="1146.60" width="9.60" height="10.00" fill="#00b400" stroke="#000" stroke-width="1.2"/>
<rect x="782.99" y="1171.90" width="9.60" height="10.00" fill="#00b400" stroke="#000" stroke-width="1.2"/>
<rect x="799.17" y="1192.60" width="9.60" height="10.00" fill="#00b400" stroke="#000" stroke-width="1.2"/>
<rect x="815.35" y="1208.70" width="9.60" height="10.00" fill="#00b400" stroke="#000" stroke-width="1.2"/>
<rect x="831.54" y="1220.90" width="9.60" height="10.00" fill="#00b400" stroke="#000" stroke-width="1.2"/>
<rect x="847.72" y="1230.80" width="9.60" height="10.00" fill="#00b400" stroke="#000" stroke-width="1.2"/>
<rect x="863.90" y="1238.30" width="9.60" height="10.00" fill="#00b400" stroke="#000" stroke-width="1.2"/>
<path d="M135.00 1092.80L146.00 1092.80L140.50 1102.60Z" fill="#000" stroke="#000" stroke-width="1.1" stroke-linejoin="miter"/>
<path d="M151.18 1101.55L162.18 1101.55L156.68 1111.35Z" fill="#000" stroke="#000" stroke-width="1.1" stroke-linejoin="miter"/>
<path d="M167.36 1115.05L178.36 1115.05L172.86 1124.85Z" fill="#000" stroke="#000" stroke-width="1.1" stroke-linejoin="miter"/>
<path d="M183.55 1132.55L194.55 1132.55L189.05 1142.35Z" fill="#000" stroke="#000" stroke-width="1.1" stroke-linejoin="miter"/>
<path d="M199.73 1140.55L210.73 1140.55L205.23 1150.35Z" fill="#000" stroke="#000" stroke-width="1.1" stroke-linejoin="miter"/>
<path d="M215.91 1162.55L226.91 1162.55L221.41 1172.35Z" fill="#000" stroke="#000" stroke-width="1.1" stroke-linejoin="miter"/>
<path d="M232.09 1170.55L243.09 1170.55L237.59 1180.35Z" fill="#000" stroke="#000" stroke-width="1.1" stroke-linejoin="miter"/>
<path d="M248.28 1175.80L259.28 1175.80L253.78 1185.60Z" fill="#000" stroke="#000" stroke-width="1.1" stroke-linejoin="miter"/>
<path d="M264.46 1167.55L275.46 1167.55L269.96 1177.35Z" fill="#000" stroke="#000" stroke-width="1.1" stroke-linejoin="miter"/>
<path d="M280.64 1146.05L291.64 1146.05L286.14 1155.85Z" fill="#000" stroke="#000" stroke-width="1.1" stroke-linejoin="miter"/>
<path d="M296.82 1081.80L307.82 1081.80L302.32 1091.60Z" fill="#000" stroke="#000" stroke-width="1.1" stroke-linejoin="miter"/>
<path d="M313.00 1043.80L324.00 1043.80L318.50 1053.60Z" fill="#000" stroke="#000" stroke-width="1.1" stroke-linejoin="miter"/>
<path d="M329.19 1009.80L340.19 1009.80L334.69 1019.60Z" fill="#000" stroke="#000" stroke-width="1.1" stroke-linejoin="miter"/>
<path d="M345.37 956.55L356.37 956.55L350.87 966.35Z" fill="#000" stroke="#000" stroke-width="1.1" stroke-linejoin="miter"/>
<path d="M361.55 925.55L372.55 925.55L367.05 935.35Z" fill="#000" stroke="#000" stroke-width="1.1" stroke-linejoin="miter"/>
<path d="M377.73 887.80L388.73 887.80L383.23 897.60Z" fill="#000" stroke="#000" stroke-width="1.1" stroke-linejoin="miter"/>
<path d="M393.92 861.55L404.92 861.55L399.42 871.35Z" fill="#000" stroke="#000" stroke-width="1.1" stroke-linejoin="miter"/>
<path d="M410.10 842.30L421.10 842.30L415.60 852.10Z" fill="#000" stroke="#000" stroke-width="1.1" stroke-linejoin="miter"/>
<path d="M426.28 827.90L437.28 827.90L431.78 837.70Z" fill="#000" stroke="#000" stroke-width="1.1" stroke-linejoin="miter"/>
<path d="M442.46 817.90L453.46 817.90L447.96 827.70Z" fill="#000" stroke="#000" stroke-width="1.1" stroke-linejoin="miter"/>
<path d="M458.64 809.90L469.64 809.90L464.14 819.70Z" fill="#000" stroke="#000" stroke-width="1.1" stroke-linejoin="miter"/>
<path d="M474.83 804.90L485.83 804.90L480.33 814.70Z" fill="#000" stroke="#000" stroke-width="1.1" stroke-linejoin="miter"/>
<path d="M491.01 801.30L502.01 801.30L496.51 811.10Z" fill="#000" stroke="#000" stroke-width="1.1" stroke-linejoin="miter"/>
<path d="M507.19 800.90L518.19 800.90L512.69 810.70Z" fill="#000" stroke="#000" stroke-width="1.1" stroke-linejoin="miter"/>
<path d="M523.37 800.90L534.37 800.90L528.87 810.70Z" fill="#000" stroke="#000" stroke-width="1.1" stroke-linejoin="miter"/>
<path d="M539.56 801.90L550.56 801.90L545.06 811.70Z" fill="#000" stroke="#000" stroke-width="1.1" stroke-linejoin="miter"/>
<path d="M555.74 803.50L566.74 803.50L561.24 813.30Z" fill="#000" stroke="#000" stroke-width="1.1" stroke-linejoin="miter"/>
<path d="M571.92 807.90L582.92 807.90L577.42 817.70Z" fill="#000" stroke="#000" stroke-width="1.1" stroke-linejoin="miter"/>
<path d="M588.10 814.90L599.10 814.90L593.60 824.70Z" fill="#000" stroke="#000" stroke-width="1.1" stroke-linejoin="miter"/>
<path d="M604.28 824.30L615.28 824.30L609.78 834.10Z" fill="#000" stroke="#000" stroke-width="1.1" stroke-linejoin="miter"/>
<path d="M620.47 835.70L631.47 835.70L625.97 845.50Z" fill="#000" stroke="#000" stroke-width="1.1" stroke-linejoin="miter"/>
<path d="M636.65 849.70L647.65 849.70L642.15 859.50Z" fill="#000" stroke="#000" stroke-width="1.1" stroke-linejoin="miter"/>
<path d="M652.83 868.70L663.83 868.70L658.33 878.50Z" fill="#000" stroke="#000" stroke-width="1.1" stroke-linejoin="miter"/>
<path d="M669.01 892.10L680.01 892.10L674.51 901.90Z" fill="#000" stroke="#000" stroke-width="1.1" stroke-linejoin="miter"/>
<path d="M685.20 921.10L696.20 921.10L690.70 930.90Z" fill="#000" stroke="#000" stroke-width="1.1" stroke-linejoin="miter"/>
<path d="M701.38 955.70L712.38 955.70L706.88 965.50Z" fill="#000" stroke="#000" stroke-width="1.1" stroke-linejoin="miter"/>
<path d="M717.56 994.90L728.56 994.90L723.06 1004.70Z" fill="#000" stroke="#000" stroke-width="1.1" stroke-linejoin="miter"/>
<path d="M733.74 1036.50L744.74 1036.50L739.24 1046.30Z" fill="#000" stroke="#000" stroke-width="1.1" stroke-linejoin="miter"/>
<path d="M749.92 1077.50L760.92 1077.50L755.42 1087.30Z" fill="#000" stroke="#000" stroke-width="1.1" stroke-linejoin="miter"/>
<path d="M766.11 1114.10L777.11 1114.10L771.61 1123.90Z" fill="#000" stroke="#000" stroke-width="1.1" stroke-linejoin="miter"/>
<path d="M782.29 1145.60L793.29 1145.60L787.79 1155.40Z" fill="#000" stroke="#000" stroke-width="1.1" stroke-linejoin="miter"/>
<path d="M798.47 1171.70L809.47 1171.70L803.97 1181.50Z" fill="#000" stroke="#000" stroke-width="1.1" stroke-linejoin="miter"/>
<path d="M814.65 1192.40L825.65 1192.40L820.15 1202.20Z" fill="#000" stroke="#000" stroke-width="1.1" stroke-linejoin="miter"/>
<path d="M830.84 1209.10L841.84 1209.10L836.34 1218.90Z" fill="#000" stroke="#000" stroke-width="1.1" stroke-linejoin="miter"/>
<path d="M847.02 1222.10L858.02 1222.10L852.52 1231.90Z" fill="#000" stroke="#000" stroke-width="1.1" stroke-linejoin="miter"/>
<path d="M863.20 1231.60L874.20 1231.60L868.70 1241.40Z" fill="#000" stroke="#000" stroke-width="1.1" stroke-linejoin="miter"/>
<rect x="135.70" y="1197.50" width="9.60" height="10.00" fill="#0000ff" stroke="#000" stroke-width="1.2"/>
<rect x="151.88" y="1201.75" width="9.60" height="10.00" fill="#0000ff" stroke="#000" stroke-width="1.2"/>
<rect x="168.06" y="1201.75" width="9.60" height="10.00" fill="#0000ff" stroke="#000" stroke-width="1.2"/>
<rect x="184.25" y="1196.75" width="9.60" height="10.00" fill="#0000ff" stroke="#000" stroke-width="1.2"/>
<rect x="200.43" y="1185.75" width="9.60" height="10.00" fill="#0000ff" stroke="#000" stroke-width="1.2"/>
<rect x="216.61" y="1167.50" width="9.60" height="10.00" fill="#0000ff" stroke="#000" stroke-width="1.2"/>
<rect x="232.79" y="1141.00" width="9.60" height="10.00" fill="#0000ff" stroke="#000" stroke-width="1.2"/>
<rect x="248.98" y="1105.50" width="9.60" height="10.00" fill="#0000ff" stroke="#000" stroke-width="1.2"/>
<rect x="265.16" y="1061.75" width="9.60" height="10.00" fill="#0000ff" stroke="#000" stroke-width="1.2"/>
<rect x="281.34" y="1012.75" width="9.60" height="10.00" fill="#0000ff" stroke="#000" stroke-width="1.2"/>
<rect x="297.52" y="964.50" width="9.60" height="10.00" fill="#0000ff" stroke="#000" stroke-width="1.2"/>
<rect x="313.70" y="921.00" width="9.60" height="10.00" fill="#0000ff" stroke="#000" stroke-width="1.2"/>
<rect x="329.89" y="885.00" width="9.60" height="10.00" fill="#0000ff" stroke="#000" stroke-width="1.2"/>
<rect x="346.07" y="857.50" width="9.60" height="10.00" fill="#0000ff" stroke="#000" stroke-width="1.2"/>
<rect x="362.25" y="837.50" width="9.60" height="10.00" fill="#0000ff" stroke="#000" stroke-width="1.2"/>
<rect x="378.43" y="822.50" width="9.60" height="10.00" fill="#0000ff" stroke="#000" stroke-width="1.2"/>
<rect x="394.62" y="813.25" width="9.60" height="10.00" fill="#0000ff" stroke="#000" stroke-width="1.2"/>
<rect x="410.80" y="807.50" width="9.60" height="10.00" fill="#0000ff" stroke="#000" stroke-width="1.2"/>
<rect x="426.98" y="804.00" width="9.60" height="10.00" fill="#0000ff" stroke="#000" stroke-width="1.2"/>
<rect x="443.16" y="803.00" width="9.60" height="10.00" fill="#0000ff" stroke="#000" stroke-width="1.2"/>
<rect x="459.34" y="803.60" width="9.60" height="10.00" fill="#0000ff" stroke="#000" stroke-width="1.2"/>
<rect x="475.53" y="805.40" width="9.60" height="10.00" fill="#0000ff" stroke="#000" stroke-width="1.2"/>
<rect x="491.71" y="809.00" width="9.60" height="10.00" fill="#0000ff" stroke="#000" stroke-width="1.2"/>
<rect x="507.89" y="813.00" width="9.60" height="10.00" fill="#0000ff" stroke="#000" stroke-width="1.2"/>
<rect x="524.07" y="817.60" width="9.60" height="10.00" fill="#0000ff" stroke="#000" stroke-width="1.2"/>
<rect x="540.26" y="823.40" width="9.60" height="10.00" fill="#0000ff" stroke="#000" stroke-width="1.2"/>
<rect x="556.44" y="829.00" width="9.60" height="10.00" fill="#0000ff" stroke="#000" stroke-width="1.2"/>
<rect x="572.62" y="834.60" width="9.60" height="10.00" fill="#0000ff" stroke="#000" stroke-width="1.2"/>
<rect x="588.80" y="841.00" width="9.60" height="10.00" fill="#0000ff" stroke="#000" stroke-width="1.2"/>
<rect x="604.98" y="848.00" width="9.60" height="10.00" fill="#0000ff" stroke="#000" stroke-width="1.2"/>
<rect x="621.17" y="856.00" width="9.60" height="10.00" fill="#0000ff" stroke="#000" stroke-width="1.2"/>
<rect x="637.35" y="867.00" width="9.60" height="10.00" fill="#0000ff" stroke="#000" stroke-width="1.2"/>
<rect x="653.53" y="882.00" width="9.60" height="10.00" fill="#0000ff" stroke="#000" stroke-width="1.2"/>
<rect x="669.71" y="902.00" width="9.60" height="10.00" fill="#0000ff" stroke="#000" stroke-width="1.2"/>
<rect x="685.90" y="927.60" width="9.60" height="10.00" fill="#0000ff" stroke="#000" stroke-width="1.2"/>
<rect x="702.08" y="958.00" width="9.60" height="10.00" fill="#0000ff" stroke="#000" stroke-width="1.2"/>
<rect x="718.26" y="993.40" width="9.60" height="10.00" fill="#0000ff" stroke="#000" stroke-width="1.2"/>
<rect x="734.44" y="1030.60" width="9.60" height="10.00" fill="#0000ff" stroke="#000" stroke-width="1.2"/>
<rect x="750.62" y="1067.40" width="9.60" height="10.00" fill="#0000ff" stroke="#000" stroke-width="1.2"/>
<rect x="766.81" y="1102.50" width="9.60" height="10.00" fill="#0000ff" stroke="#000" stroke-width="1.2"/>
<rect x="782.99" y="1133.20" width="9.60" height="10.00" fill="#0000ff" stroke="#000" stroke-width="1.2"/>
<rect x="799.17" y="1158.80" width="9.60" height="10.00" fill="#0000ff" stroke="#000" stroke-width="1.2"/>
<rect x="815.35" y="1180.00" width="9.60" height="10.00" fill="#0000ff" stroke="#000" stroke-width="1.2"/>
<rect x="831.54" y="1197.00" width="9.60" height="10.00" fill="#0000ff" stroke="#000" stroke-width="1.2"/>
<rect x="847.72" y="1210.50" width="9.60" height="10.00" fill="#0000ff" stroke="#000" stroke-width="1.2"/>
<rect x="863.90" y="1220.90" width="9.60" height="10.00" fill="#0000ff" stroke="#000" stroke-width="1.2"/>
<line x1="236.30" y1="861.50" x2="313.75" y2="922.00" stroke="#0808ff" stroke-width="1.9" stroke-linecap="butt"/>
<line x1="223.30" y1="882.80" x2="331.25" y2="1014.50" stroke="#000" stroke-width="1.5" stroke-linecap="butt"/>
<line x1="371.25" y1="964.50" x2="402.40" y2="1023.40" stroke="#12b812" stroke-width="1.6" stroke-linecap="butt"/>
<line x1="340.00" y1="982.50" x2="401.60" y2="1046.60" stroke="#12b812" stroke-width="1.6" stroke-linecap="butt"/>
<text transform="translate(165.50,837.30) scale(1.0509,1)" font-family="Liberation Sans, sans-serif" font-weight="bold" font-size="25.22" fill="#000" xml:space="preserve">Zr-CrCC</text>
<text transform="translate(169.26,866.00) scale(1.0694,1)" font-family="Liberation Sans, sans-serif" font-weight="bold" font-size="17.80" fill="#1010ff" xml:space="preserve">1 week</text>
<text transform="translate(168.35,891.20) scale(0.9805,1)" font-family="Liberation Sans, sans-serif" font-weight="bold" font-size="18.10" fill="#000" xml:space="preserve">1 hour</text>
<text transform="translate(404.03,1032.20) scale(0.9917,1)" font-family="Liberation Sans, sans-serif" font-weight="bold" font-size="18.10" fill="#12b812" xml:space="preserve">1 hour</text>
<text transform="translate(403.97,1056.20) scale(1.0649,1)" font-family="Liberation Sans, sans-serif" font-weight="bold" font-size="17.70" fill="#12b812" xml:space="preserve">1 week</text>
<text transform="translate(404.72,1085.30) scale(1.0756,1)" font-family="Liberation Sans, sans-serif" font-weight="bold" font-size="25.20" fill="#12b812" xml:space="preserve">Ground</text>
</svg>
</body>
</html>
